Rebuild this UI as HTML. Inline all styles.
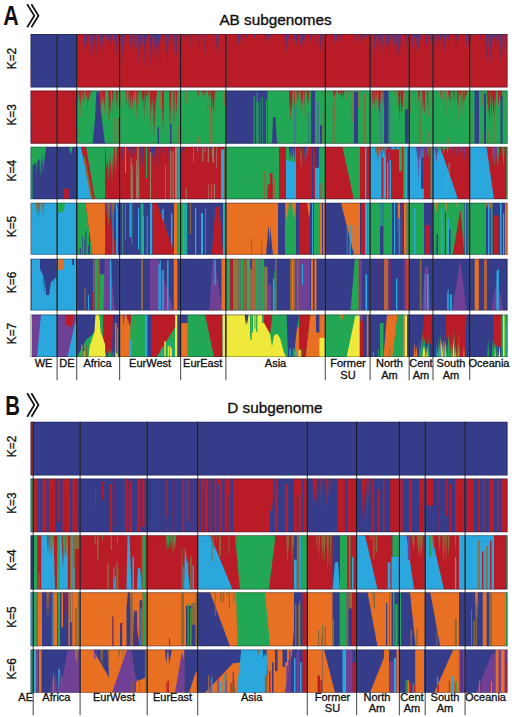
<!DOCTYPE html>
<html><head><meta charset="utf-8"><style>
html,body{margin:0;padding:0;background:#fff;width:512px;height:717px;overflow:hidden}
svg{display:block}
text{font-family:"Liberation Sans",sans-serif;fill:#111}
.k{font-size:11.9px;stroke:#111;stroke-width:0.3px}
.g{font-size:10.2px;stroke:#111;stroke-width:0.3px}
.t{font-size:15.3px;stroke:#111;stroke-width:0.35px}
.big{font-size:27.5px;font-weight:bold}
</style></head><body>
<svg width="512" height="717" viewBox="0 0 512 717">
<defs><filter id="bl" x="-1%" y="-5%" width="102%" height="110%"><feGaussianBlur stdDeviation="0.35 0.2"/></filter></defs>
<text transform="translate(3.3,25.3) scale(0.78,1)" class="big">A</text>
<polyline points="27.2,4.3 34.3,15.7 27.2,27.2" fill="none" stroke="#111" stroke-width="1.7"/>
<polyline points="31.4,4.3 38.5,15.7 31.4,27.2" fill="none" stroke="#111" stroke-width="1.7"/>
<text x="275.5" y="25.2" text-anchor="middle" class="t">AB subgenomes</text>
<text transform="translate(5.2,414.8) scale(0.74,1)" class="big">B</text>
<polyline points="27.2,393.3 34.3,405 27.2,416.7" fill="none" stroke="#111" stroke-width="1.7"/>
<polyline points="31.4,393.3 38.5,405 31.4,416.7" fill="none" stroke="#111" stroke-width="1.7"/>
<text x="274.9" y="413.2" text-anchor="middle" class="t">D subgenome</text>
<svg x="30.5" y="34" width="477.1" height="53.5" viewBox="30.5 34 477.1 53.5" overflow="hidden">
<g filter="url(#bl)">
<rect x="28.5" y="32" width="481.1" height="57.5" fill="#343e8b"/>
<rect x="30.5" y="34" width="46.2" height="53.5" fill="#343e8b"/>
<rect x="30.5" y="69.8" width="1" height="17.7" fill="#b91f27"/>
<rect x="76.7" y="34" width="430.9" height="53.5" fill="#b91f27"/>
<polygon points="98.9,34 100.4,34 99.6,59.1" fill="#5c3378"/>
<polygon points="100,34 101.5,34 100.8,43.3" fill="#5c3378"/>
<polygon points="108.1,34 109.8,34 108.8,41.4" fill="#5c3378"/>
<polygon points="109.3,34 110.3,34 109.6,54.2" fill="#5c3378"/>
<polygon points="114.4,34 116.6,34 115.6,53.3" fill="#5c3378"/>
<polygon points="77.1,34 78.1,34 77.4,50.7" fill="#5c3378"/>
<polygon points="86.3,34 87.3,34 86.8,40" fill="#5c3378"/>
<polygon points="110.3,34 111.7,34 111.1,50.5" fill="#5c3378"/>
<polygon points="103,34 104.5,34 103.6,49.1" fill="#5c3378"/>
<polygon points="115.6,34 117.8,34 116.9,57.3" fill="#5c3378"/>
<polygon points="85.7,34 87,34 86.2,45.5" fill="#5c3378"/>
<polygon points="92.4,34 94.2,34 93.2,57.5" fill="#5c3378"/>
<polygon points="109.8,34 112,34 110.7,39.4" fill="#5c3378"/>
<polygon points="95,34 97.1,34 96,60.3" fill="#5c3378"/>
<polygon points="102.1,34 103,34 102.4,56" fill="#5c3378"/>
<polygon points="90,34 90.9,34 90.6,60" fill="#5c3378"/>
<polygon points="86.5,34 87.5,34 86.8,41.5" fill="#5c3378"/>
<polygon points="83.5,34 85.4,34 84.5,51.3" fill="#5c3378"/>
<polygon points="106.1,34 107.2,34 106.7,42.2" fill="#5c3378"/>
<polygon points="93.6,34 94.5,34 93.9,43.9" fill="#5c3378"/>
<polygon points="108.1,34 110.3,34 109.5,45.9" fill="#5c3378"/>
<polygon points="92.4,34 93.5,34 93,57.6" fill="#5c3378"/>
<polygon points="116.6,34 117.6,34 117,43.9" fill="#5c3378"/>
<polygon points="89.5,34 91.4,34 90.2,45.7" fill="#5c3378"/>
<polygon points="100.1,34 101.1,34 100.6,44.6" fill="#5c3378"/>
<polygon points="94.7,34 96,34 95.4,59.9" fill="#5c3378"/>
<polygon points="111.1,34 112.7,34 111.7,43.3" fill="#5c3378"/>
<polygon points="108.7,34 110.8,34 109.5,44.7" fill="#5c3378"/>
<polygon points="113.8,34 115.6,34 115,43.6" fill="#5c3378"/>
<polygon points="100.3,34 102.4,34 101,48.4" fill="#5c3378"/>
<polygon points="158.5,34 159.9,34 159,64.3" fill="#5c3378"/>
<polygon points="142.2,34 143,34 142.7,49.6" fill="#5c3378"/>
<polygon points="155,34 156.8,34 156,60.3" fill="#5c3378"/>
<polygon points="146,34 147,34 146.6,45.4" fill="#5c3378"/>
<polygon points="168.4,34 169.3,34 168.9,42.1" fill="#5c3378"/>
<polygon points="143.8,34 145,34 144.2,70.9" fill="#5c3378"/>
<polygon points="174.1,34 175,34 174.4,58.4" fill="#5c3378"/>
<polygon points="174.7,34 176.9,34 175.8,43.6" fill="#5c3378"/>
<polygon points="138.4,34 139.4,34 138.8,62.6" fill="#5c3378"/>
<polygon points="123,34 124.8,34 124.1,45.8" fill="#5c3378"/>
<polygon points="144.6,34 145.9,34 145.2,61.7" fill="#5c3378"/>
<polygon points="121.8,34 123.1,34 122.7,66.6" fill="#5c3378"/>
<polygon points="158.4,34 160.5,34 159.3,52.7" fill="#5c3378"/>
<polygon points="159.2,34 161,34 159.9,43.6" fill="#5c3378"/>
<polygon points="150,34 151.3,34 150.7,69.7" fill="#5c3378"/>
<polygon points="168.7,34 169.5,34 169.1,55.5" fill="#5c3378"/>
<polygon points="145.2,34 146.3,34 145.8,53.9" fill="#5c3378"/>
<polygon points="152.5,34 153.4,34 153,46" fill="#5c3378"/>
<polygon points="136.4,34 137.2,34 136.8,52.2" fill="#5c3378"/>
<polygon points="147.2,34 148,34 147.5,47.2" fill="#5c3378"/>
<polygon points="176.1,34 177.6,34 177.1,57.4" fill="#5c3378"/>
<polygon points="174.5,34 175.5,34 174.9,53" fill="#5c3378"/>
<polygon points="173,34 174.9,34 173.8,39.6" fill="#5c3378"/>
<polygon points="139.9,34 141.7,34 140.4,48.4" fill="#5c3378"/>
<polygon points="156.6,34 157.5,34 157.2,76.2" fill="#5c3378"/>
<polygon points="121.4,34 122.9,34 122.3,51.4" fill="#5c3378"/>
<polygon points="157.1,34 159.1,34 158.1,47.9" fill="#5c3378"/>
<polygon points="156.7,34 158.2,34 157.7,49.2" fill="#5c3378"/>
<polygon points="129.4,34 131.4,34 130.7,50.3" fill="#5c3378"/>
<polygon points="175.5,34 176.7,34 176.2,58.6" fill="#5c3378"/>
<polygon points="132.5,34 134.2,34 133.2,50" fill="#5c3378"/>
<polygon points="160.4,34 162.2,34 161.6,44.3" fill="#5c3378"/>
<polygon points="134.1,34 135.5,34 135.1,55.7" fill="#5c3378"/>
<polygon points="156.5,34 158.1,34 157.6,73.8" fill="#5c3378"/>
<polygon points="144.3,34 146.1,34 145.5,61.4" fill="#5c3378"/>
<polygon points="153.7,34 155.6,34 154.6,52.4" fill="#5c3378"/>
<polygon points="152.8,34 154.6,34 153.8,40" fill="#5c3378"/>
<polygon points="166.2,34 168.3,34 167.6,73" fill="#5c3378"/>
<polygon points="166.1,34 167.7,34 166.7,53.6" fill="#5c3378"/>
<polygon points="138.3,34 139.6,34 139.1,74.3" fill="#5c3378"/>
<polygon points="154.5,34 155.4,34 155.1,42" fill="#343e8b"/>
<polygon points="150.6,34 152,34 151.2,49.2" fill="#343e8b"/>
<polygon points="144.6,34 146.3,34 145.8,45.7" fill="#343e8b"/>
<polygon points="155.3,34 156.9,34 155.8,47.4" fill="#343e8b"/>
<polygon points="170.5,34 171.7,34 171.1,46.7" fill="#343e8b"/>
<polygon points="140.5,34 141.5,34 140.8,42.4" fill="#343e8b"/>
<polygon points="157.8,34 159.5,34 158.4,43.8" fill="#343e8b"/>
<polygon points="144.3,34 145.4,34 144.8,38.6" fill="#343e8b"/>
<polygon points="163.3,34 164.5,34 163.7,48.8" fill="#343e8b"/>
<polygon points="170.5,34 171.4,34 170.9,36.8" fill="#343e8b"/>
<polygon points="151.2,34 152.6,34 152,39.6" fill="#343e8b"/>
<polygon points="120.3,34 121.8,34 121,46.2" fill="#343e8b"/>
<polygon points="196.4,34 197.5,34 197.1,45.8" fill="#5c3378"/>
<polygon points="185.5,34 186.6,34 185.9,38.6" fill="#5c3378"/>
<polygon points="183,34 184.7,34 183.7,43.8" fill="#5c3378"/>
<polygon points="190.3,34 191.4,34 190.9,47.9" fill="#5c3378"/>
<polygon points="186.7,34 187.5,34 187.2,38.6" fill="#5c3378"/>
<polygon points="198.7,34 200.5,34 199.8,47.7" fill="#5c3378"/>
<polygon points="215.9,34 216.8,34 216.5,53.3" fill="#5c3378"/>
<polygon points="205.1,34 206.2,34 205.7,55.1" fill="#5c3378"/>
<polygon points="215.3,34 216.5,34 216,47.8" fill="#5c3378"/>
<polygon points="204.4,34 205.3,34 204.8,58.6" fill="#5c3378"/>
<polygon points="218.2,34 219.3,34 218.6,52.9" fill="#5c3378"/>
<polygon points="214.6,34 216.1,34 215.4,42.9" fill="#5c3378"/>
<polygon points="237.4,34 239.3,34 238.1,44.6" fill="#5c3378"/>
<polygon points="237.5,34 239.5,34 238.7,46.1" fill="#5c3378"/>
<polygon points="269.2,34 271,34 270,39.2" fill="#5c3378"/>
<polygon points="246.1,34 247.7,34 246.7,39.5" fill="#5c3378"/>
<polygon points="265.1,34 267,34 265.8,45.2" fill="#5c3378"/>
<polygon points="253.4,34 255.3,34 254.3,39.2" fill="#5c3378"/>
<polygon points="239.6,34 240.9,34 240.2,42.7" fill="#5c3378"/>
<polygon points="267.2,34 268.7,34 267.9,43.6" fill="#5c3378"/>
<polygon points="303.1,34 304.3,34 303.7,47.2" fill="#5c3378"/>
<polygon points="310.1,34 311.4,34 310.8,44.2" fill="#5c3378"/>
<polygon points="296.1,34 297,34 296.4,45.6" fill="#5c3378"/>
<polygon points="296.2,34 297.9,34 297.3,54.1" fill="#5c3378"/>
<polygon points="319.6,34 320.8,34 320.3,54.5" fill="#5c3378"/>
<polygon points="302.3,34 303.2,34 302.7,51.1" fill="#5c3378"/>
<polygon points="296.4,34 297.4,34 297,44.2" fill="#5c3378"/>
<polygon points="300.8,34 302.1,34 301.7,51.4" fill="#5c3378"/>
<polygon points="285.8,34 286.9,34 286.5,57.6" fill="#5c3378"/>
<polygon points="304.5,34 306.3,34 305.2,43.7" fill="#5c3378"/>
<polygon points="302.4,34 303.5,34 303,40.6" fill="#5c3378"/>
<polygon points="284.5,34 286.2,34 285.3,55.1" fill="#5c3378"/>
<polygon points="302.6,34 304.5,34 303.5,54.3" fill="#5c3378"/>
<polygon points="303.7,34 305.2,34 304.3,39.8" fill="#5c3378"/>
<polygon points="300.2,34 301.3,34 300.8,46.3" fill="#5c3378"/>
<polygon points="299.8,34 301.4,34 300.6,45.3" fill="#5c3378"/>
<polygon points="314.6,34 316.5,34 315.8,51.6" fill="#5c3378"/>
<polygon points="288,34 289.1,34 288.4,41.1" fill="#5c3378"/>
<polygon points="309.1,34 310,34 309.4,56.6" fill="#5c3378"/>
<polygon points="321,34 322.7,34 321.6,53.7" fill="#5c3378"/>
<polygon points="294.1,34 295.6,34 294.6,42.7" fill="#5c3378"/>
<polygon points="320.4,34 321.8,34 320.9,41.3" fill="#5c3378"/>
<polygon points="285.5,34 286.8,34 286.3,48" fill="#5c3378"/>
<polygon points="285.5,34 286.9,34 286.1,39.9" fill="#5c3378"/>
<polygon points="320.4,34 322,34 321,48.8" fill="#5c3378"/>
<polygon points="360.5,34 362,34 361.1,47" fill="#5c3378"/>
<polygon points="356.1,34 357.8,34 356.7,43.8" fill="#5c3378"/>
<polygon points="343.2,34 344,34 343.5,44.7" fill="#5c3378"/>
<polygon points="340.2,34 341.6,34 341.2,45.7" fill="#5c3378"/>
<polygon points="368.7,34 369.9,34 369.5,37.3" fill="#5c3378"/>
<polygon points="333.2,34 335.1,34 334.2,44.2" fill="#5c3378"/>
<polygon points="335.6,34 337.6,34 336.9,42.5" fill="#5c3378"/>
<polygon points="339.8,34 341.4,34 340.9,37.6" fill="#5c3378"/>
<polygon points="368.5,34 369.8,34 369.3,38.2" fill="#5c3378"/>
<polygon points="364.9,34 366.7,34 365.7,36.9" fill="#5c3378"/>
<polygon points="393.8,34 394.8,34 394.2,46.5" fill="#5c3378"/>
<polygon points="387.6,34 389,34 388.3,49.6" fill="#5c3378"/>
<polygon points="379.1,34 380.2,34 379.6,54.2" fill="#5c3378"/>
<polygon points="397.9,34 399.5,34 398.9,57.9" fill="#5c3378"/>
<polygon points="378.5,34 379.6,34 379.1,55.1" fill="#5c3378"/>
<polygon points="394.4,34 395.4,34 395,58" fill="#5c3378"/>
<polygon points="380.7,34 381.8,34 381.5,39.5" fill="#5c3378"/>
<polygon points="396.1,34 397.2,34 396.7,50.9" fill="#5c3378"/>
<polygon points="399.4,34 400.8,34 400,52.2" fill="#5c3378"/>
<polygon points="387.2,34 388.2,34 387.6,59.1" fill="#5c3378"/>
<polygon points="392.3,34 393.9,34 392.9,42.8" fill="#5c3378"/>
<polygon points="385.5,34 387.1,34 386.3,48.1" fill="#5c3378"/>
<polygon points="395.4,34 396.3,34 395.9,51.9" fill="#5c3378"/>
<polygon points="399,34 400.3,34 399.7,57" fill="#5c3378"/>
<polygon points="375.3,34 376.2,34 375.6,42.6" fill="#5c3378"/>
<polygon points="389.3,34 390.8,34 390.3,43.7" fill="#5c3378"/>
<polygon points="398.1,34 399.6,34 399,56.9" fill="#5c3378"/>
<polygon points="405,34 406.5,34 405.8,42.2" fill="#5c3378"/>
<polygon points="386.8,34 388.7,34 387.5,56.8" fill="#5c3378"/>
<polygon points="379.7,34 381,34 380.4,47.8" fill="#5c3378"/>
<polygon points="382.2,34 383.2,34 382.6,57.5" fill="#5c3378"/>
<polygon points="405.8,34 406.8,34 406.1,50.9" fill="#5c3378"/>
<polygon points="375.2,34 376.7,34 376.1,42.8" fill="#5c3378"/>
<polygon points="385.1,34 386.7,34 385.9,50.4" fill="#5c3378"/>
<polygon points="373.6,34 375,34 374.4,55.8" fill="#5c3378"/>
<polygon points="426,34 427.6,34 426.8,47.7" fill="#5c3378"/>
<polygon points="430.7,34 431.9,34 431.1,44" fill="#5c3378"/>
<polygon points="415.4,34 416.6,34 415.9,44.6" fill="#5c3378"/>
<polygon points="416.9,34 417.8,34 417.3,44.3" fill="#5c3378"/>
<polygon points="411.5,34 412.5,34 412,42.6" fill="#5c3378"/>
<polygon points="425.2,34 426.5,34 425.8,52.2" fill="#5c3378"/>
<polygon points="425.3,34 426.3,34 425.8,51.5" fill="#5c3378"/>
<polygon points="416.1,34 417.7,34 417.1,54" fill="#5c3378"/>
<polygon points="429.3,34 431.1,34 430.2,43.1" fill="#5c3378"/>
<polygon points="426.3,34 428,34 426.9,45.6" fill="#5c3378"/>
<polygon points="412.1,34 413.7,34 412.6,50.7" fill="#5c3378"/>
<polygon points="419.9,34 421.3,34 420.6,41.3" fill="#5c3378"/>
<polygon points="417.6,34 419,34 418.5,53.7" fill="#5c3378"/>
<polygon points="414.9,34 416.8,34 415.8,39.8" fill="#5c3378"/>
<polygon points="456.4,34 458.3,34 457.7,51.7" fill="#5c3378"/>
<polygon points="455.2,34 456.3,34 455.9,53.9" fill="#5c3378"/>
<polygon points="438.8,34 440.3,34 439.9,46" fill="#5c3378"/>
<polygon points="444.2,34 445.1,34 444.6,54.6" fill="#5c3378"/>
<polygon points="444.1,34 445.1,34 444.5,53.9" fill="#5c3378"/>
<polygon points="454.8,34 456.1,34 455.4,52.3" fill="#5c3378"/>
<polygon points="453.1,34 454,34 453.4,39.9" fill="#5c3378"/>
<polygon points="457.3,34 458.3,34 457.8,43.9" fill="#5c3378"/>
<polygon points="437.1,34 438.1,34 437.7,39.7" fill="#5c3378"/>
<polygon points="440.5,34 442.3,34 441.1,43.2" fill="#5c3378"/>
<polygon points="443.4,34 444.9,34 444.2,41.5" fill="#5c3378"/>
<polygon points="448.4,34 449.9,34 449.3,41.8" fill="#5c3378"/>
<polygon points="447.9,34 449.4,34 448.9,42" fill="#5c3378"/>
<polygon points="456.6,34 458.4,34 457.5,55.3" fill="#5c3378"/>
<polygon points="437,34 438.3,34 437.7,49.1" fill="#5c3378"/>
<polygon points="467.4,34 468.7,34 467.9,52.8" fill="#5c3378"/>
<polygon points="433.1,34 434.9,34 433.9,49.8" fill="#5c3378"/>
<polygon points="465.7,34 467.4,34 466.7,47.9" fill="#5c3378"/>
<polygon points="456.4,34 457.3,34 456.9,41.2" fill="#5c3378"/>
<polygon points="435.5,34 436.7,34 435.9,51.3" fill="#5c3378"/>
<polygon points="479.7,34 480.7,34 480.1,41.8" fill="#5c3378"/>
<polygon points="481,34 482.1,34 481.6,43.2" fill="#5c3378"/>
<polygon points="473.2,34 474.6,34 473.8,36.7" fill="#5c3378"/>
<polygon points="470.9,34 472.4,34 471.5,43" fill="#5c3378"/>
<polygon points="470.6,34 471.7,34 471.2,44.7" fill="#5c3378"/>
<polygon points="487.7,34 489.6,34 489,40" fill="#5c3378"/>
<polygon points="487.4,34 488.4,34 487.9,56.8" fill="#5c3378"/>
<polygon points="489.4,34 491.3,34 490.2,65" fill="#5c3378"/>
<polygon points="503.2,34 504.7,34 504.2,57.7" fill="#5c3378"/>
<polygon points="485.9,34 487.6,34 486.8,62.9" fill="#5c3378"/>
<polygon points="488.8,34 489.9,34 489.4,62.1" fill="#5c3378"/>
<polygon points="499.8,34 501.7,34 500.8,65.1" fill="#5c3378"/>
<polygon points="496.9,34 498.5,34 498,46.3" fill="#5c3378"/>
<polygon points="500.5,34 501.7,34 501.1,64.9" fill="#5c3378"/>
<polygon points="501.5,34 502.5,34 501.9,57.2" fill="#5c3378"/>
<polygon points="495.7,34 496.6,34 496.3,40.2" fill="#5c3378"/>
<polygon points="495.1,34 496.5,34 495.9,50.3" fill="#5c3378"/>
<polygon points="490.9,34 492.8,34 491.9,49.3" fill="#5c3378"/>
<polygon points="496.8,34 498,34 497.4,53.9" fill="#5c3378"/>
<polygon points="495.2,34 496.9,34 496.4,41.7" fill="#5c3378"/>
<polygon points="493.2,34 494.7,34 493.7,41.3" fill="#343e8b"/>
<polygon points="377.6,34 378.8,34 378,39" fill="#343e8b"/>
<polygon points="382.3,34 383.2,34 382.7,37" fill="#343e8b"/>
<polygon points="303,34 303.8,34 303.4,40.2" fill="#343e8b"/>
<polygon points="446.1,34 447.3,34 446.5,37.9" fill="#343e8b"/>
<polygon points="414,34 415.3,34 414.7,39.8" fill="#343e8b"/>
<polygon points="364,34 365.5,34 364.7,40.5" fill="#343e8b"/>
<polygon points="429.8,34 431,34 430.2,37.6" fill="#343e8b"/>
<polygon points="442.6,34 443.7,34 443.1,39.4" fill="#343e8b"/>
<polygon points="324.2,34 325.4,34 324.7,36.8" fill="#343e8b"/>
<polygon points="327.2,34 328.5,34 327.6,36.3" fill="#343e8b"/>
<polygon points="344.9,34 345.8,34 345.5,39.3" fill="#343e8b"/>
<polygon points="365.7,34 366.7,34 366.1,37.5" fill="#343e8b"/>
<polygon points="405.1,34 406.5,34 405.6,37.3" fill="#343e8b"/>
<polygon points="440,34 441.4,34 440.6,40.9" fill="#343e8b"/>
<polygon points="486.9,34 488.1,34 487.7,39.4" fill="#343e8b"/>
<polygon points="499.6,34 500.5,34 500,36" fill="#343e8b"/>
<polygon points="463.1,34 463.9,34 463.6,40" fill="#343e8b"/>
<polygon points="493.3,34 494.7,34 494.3,39.1" fill="#343e8b"/>
<polygon points="360.4,34 361.7,34 361,41.9" fill="#343e8b"/>
</g>
<rect x="30.9" y="34.5" width="476.2" height="52.6" fill="none" stroke="#000" stroke-opacity="0.3" stroke-width="0.9"/>
</svg>
<svg x="30.5" y="90.6" width="477.1" height="53.1" viewBox="30.5 90.6 477.1 53.1" overflow="hidden">
<g filter="url(#bl)">
<rect x="28.5" y="88.6" width="481.1" height="57.1" fill="#343e8b"/>
<rect x="30.5" y="90.6" width="46.2" height="53.1" fill="#b91f27"/>
<rect x="30.5" y="115.6" width="0.8" height="28.1" fill="#343e8b"/>
<rect x="76.7" y="90.6" width="430.9" height="53.1" fill="#22a855"/>
<rect x="201.1" y="90.6" width="0.8" height="1" fill="#8a6a3a"/>
<rect x="167.1" y="90.6" width="0.8" height="8.2" fill="#8a6a3a"/>
<rect x="352.4" y="90.6" width="0.7" height="31.5" fill="#8a6a3a"/>
<rect x="503.5" y="90.6" width="0.7" height="31.6" fill="#8a6a3a"/>
<rect x="108.2" y="90.6" width="0.6" height="5.1" fill="#8a6a3a"/>
<rect x="334.3" y="90.6" width="0.9" height="29.2" fill="#8a6a3a"/>
<rect x="357.8" y="90.6" width="1" height="17.1" fill="#8a6a3a"/>
<rect x="87.1" y="90.6" width="0.5" height="25.7" fill="#8a6a3a"/>
<rect x="404.5" y="90.6" width="0.8" height="18" fill="#8a6a3a"/>
<rect x="351.1" y="90.6" width="0.8" height="28.5" fill="#8a6a3a"/>
<rect x="289.3" y="90.6" width="0.6" height="9.9" fill="#8a6a3a"/>
<rect x="453.3" y="90.6" width="0.9" height="8" fill="#8a6a3a"/>
<rect x="181.5" y="90.6" width="0.5" height="10" fill="#8a6a3a"/>
<rect x="252.8" y="90.6" width="0.9" height="23.9" fill="#8a6a3a"/>
<rect x="301.9" y="90.6" width="0.7" height="5.9" fill="#8a6a3a"/>
<rect x="297.2" y="90.6" width="0.8" height="27.5" fill="#8a6a3a"/>
<rect x="300.1" y="90.6" width="1" height="2.2" fill="#8a6a3a"/>
<rect x="482.4" y="90.6" width="1" height="15.1" fill="#8a6a3a"/>
<rect x="477.3" y="90.6" width="0.7" height="8.1" fill="#8a6a3a"/>
<rect x="375.5" y="90.6" width="0.6" height="21.5" fill="#8a6a3a"/>
<rect x="432.3" y="90.6" width="0.8" height="16.3" fill="#8a6a3a"/>
<rect x="173.8" y="90.6" width="0.7" height="6.8" fill="#8a6a3a"/>
<rect x="262.4" y="90.6" width="0.7" height="23.6" fill="#8a6a3a"/>
<rect x="296.2" y="90.6" width="0.8" height="12.1" fill="#8a6a3a"/>
<rect x="241.1" y="90.6" width="0.8" height="25.4" fill="#8a6a3a"/>
<rect x="375.2" y="90.6" width="0.8" height="11.9" fill="#8a6a3a"/>
<rect x="386.6" y="90.6" width="0.8" height="30.5" fill="#8a6a3a"/>
<rect x="214.7" y="90.6" width="0.8" height="22" fill="#8a6a3a"/>
<rect x="220.7" y="90.6" width="0.6" height="1" fill="#8a6a3a"/>
<rect x="186" y="90.6" width="0.8" height="12.5" fill="#8a6a3a"/>
<rect x="349.7" y="90.6" width="0.9" height="1.2" fill="#8a6a3a"/>
<rect x="79.9" y="90.6" width="0.7" height="26.2" fill="#8a6a3a"/>
<rect x="442" y="90.6" width="0.7" height="8.4" fill="#8a6a3a"/>
<rect x="136.5" y="90.6" width="0.9" height="27.6" fill="#8a6a3a"/>
<rect x="108.4" y="90.6" width="0.7" height="29.2" fill="#8a6a3a"/>
<rect x="160.1" y="90.6" width="0.9" height="18.4" fill="#8a6a3a"/>
<rect x="138.3" y="90.6" width="0.7" height="13.6" fill="#8a6a3a"/>
<rect x="240.3" y="90.6" width="1" height="24.2" fill="#8a6a3a"/>
<rect x="407.1" y="90.6" width="0.9" height="19.5" fill="#8a6a3a"/>
<rect x="223.8" y="90.6" width="1" height="15.2" fill="#8a6a3a"/>
<rect x="120.3" y="90.6" width="0.7" height="15.6" fill="#8a6a3a"/>
<rect x="323.4" y="90.6" width="0.9" height="5.7" fill="#8a6a3a"/>
<rect x="284.8" y="90.6" width="0.6" height="3.4" fill="#8a6a3a"/>
<rect x="394.4" y="90.6" width="0.6" height="3.4" fill="#8a6a3a"/>
<rect x="145.2" y="90.6" width="0.6" height="16.5" fill="#8a6a3a"/>
<rect x="371.9" y="90.6" width="0.5" height="18" fill="#8a6a3a"/>
<rect x="409.7" y="90.6" width="0.9" height="23.1" fill="#8a6a3a"/>
<rect x="207.5" y="90.6" width="0.8" height="19" fill="#8a6a3a"/>
<rect x="175.1" y="90.6" width="0.6" height="22.3" fill="#8a6a3a"/>
<rect x="136" y="90.6" width="0.8" height="14.1" fill="#8a6a3a"/>
<rect x="172.5" y="90.6" width="0.8" height="20.7" fill="#8a6a3a"/>
<rect x="147.7" y="90.6" width="0.6" height="13.2" fill="#8a6a3a"/>
<rect x="385.8" y="90.6" width="0.6" height="13.2" fill="#8a6a3a"/>
<rect x="428.5" y="90.6" width="0.6" height="26.6" fill="#8a6a3a"/>
<rect x="128.6" y="90.6" width="0.9" height="8.7" fill="#8a6a3a"/>
<rect x="396.7" y="90.6" width="0.5" height="14.8" fill="#8a6a3a"/>
<rect x="479" y="90.6" width="0.5" height="2.4" fill="#8a6a3a"/>
<rect x="463.6" y="90.6" width="0.5" height="14.4" fill="#8a6a3a"/>
<rect x="329.5" y="90.6" width="0.9" height="4.3" fill="#8a6a3a"/>
<rect x="403.8" y="90.6" width="0.7" height="0.6" fill="#8a6a3a"/>
<rect x="227.4" y="90.6" width="0.9" height="16.4" fill="#8a6a3a"/>
<rect x="415.5" y="90.6" width="0.7" height="15.4" fill="#8a6a3a"/>
<rect x="104" y="90.6" width="0.7" height="23.2" fill="#8a6a3a"/>
<rect x="336.4" y="90.6" width="0.6" height="0.2" fill="#8a6a3a"/>
<rect x="346.4" y="90.6" width="0.6" height="9" fill="#8a6a3a"/>
<rect x="373.8" y="90.6" width="0.8" height="11.3" fill="#8a6a3a"/>
<rect x="244.2" y="90.6" width="0.8" height="1.4" fill="#8a6a3a"/>
<rect x="304.7" y="90.6" width="0.9" height="27.7" fill="#8a6a3a"/>
<rect x="347.6" y="90.6" width="0.8" height="3.5" fill="#8a6a3a"/>
<rect x="262.1" y="90.6" width="0.8" height="8.8" fill="#8a6a3a"/>
<rect x="420.2" y="119.6" width="0.7" height="24.1" fill="#8a6a3a"/>
<rect x="178.3" y="126.1" width="0.7" height="17.6" fill="#8a6a3a"/>
<rect x="494" y="110.3" width="0.6" height="33.4" fill="#8a6a3a"/>
<rect x="117.9" y="117.8" width="1" height="25.9" fill="#8a6a3a"/>
<rect x="485.1" y="132.6" width="0.8" height="11.1" fill="#8a6a3a"/>
<rect x="348.9" y="133.1" width="0.7" height="10.6" fill="#8a6a3a"/>
<rect x="428.1" y="131.4" width="0.6" height="12.3" fill="#8a6a3a"/>
<rect x="171.2" y="128.6" width="1" height="15.1" fill="#8a6a3a"/>
<rect x="487.2" y="129.8" width="0.7" height="13.9" fill="#8a6a3a"/>
<rect x="481.8" y="131.8" width="0.5" height="11.9" fill="#8a6a3a"/>
<rect x="491.2" y="107.3" width="0.6" height="36.4" fill="#8a6a3a"/>
<rect x="332.7" y="102.1" width="1" height="41.6" fill="#8a6a3a"/>
<rect x="212.8" y="103.9" width="0.9" height="39.8" fill="#8a6a3a"/>
<rect x="114.4" y="118" width="0.6" height="25.7" fill="#8a6a3a"/>
<rect x="471.6" y="115.5" width="0.6" height="28.2" fill="#8a6a3a"/>
<rect x="78.7" y="127.5" width="0.6" height="16.2" fill="#8a6a3a"/>
<rect x="488.4" y="129.1" width="0.6" height="14.6" fill="#8a6a3a"/>
<rect x="322.7" y="111.6" width="0.8" height="32.1" fill="#8a6a3a"/>
<rect x="209.9" y="106.6" width="1" height="37.1" fill="#8a6a3a"/>
<rect x="448.4" y="137.3" width="0.8" height="6.4" fill="#8a6a3a"/>
<rect x="179.7" y="118.4" width="0.7" height="25.3" fill="#8a6a3a"/>
<rect x="334.3" y="109.4" width="0.6" height="34.3" fill="#8a6a3a"/>
<rect x="415.3" y="136.3" width="0.6" height="7.4" fill="#8a6a3a"/>
<rect x="198.1" y="136.4" width="0.8" height="7.3" fill="#8a6a3a"/>
<rect x="314.3" y="116.2" width="0.8" height="27.5" fill="#8a6a3a"/>
<polygon points="78.6,90.6 79.4,90.6 79.1,103.2" fill="#b91f27"/>
<polygon points="78.6,90.6 79.5,90.6 79.2,100.2" fill="#b91f27"/>
<polygon points="87.4,90.6 88.4,90.6 87.7,108.2" fill="#b91f27"/>
<polygon points="83.1,90.6 84.5,90.6 84.1,103.6" fill="#b91f27"/>
<polygon points="77.3,90.6 78.2,90.6 77.7,113.4" fill="#b91f27"/>
<polygon points="81.6,90.6 82.6,90.6 82.3,102.7" fill="#b91f27"/>
<polygon points="80,90.6 81.1,90.6 80.6,106.8" fill="#b91f27"/>
<polygon points="87.9,90.6 89.9,90.6 88.7,102.5" fill="#b91f27"/>
<polygon points="90.1,90.6 91.9,90.6 91.1,96.5" fill="#b91f27"/>
<polygon points="85.6,90.6 87.4,90.6 86.7,100" fill="#b91f27"/>
<polygon points="79.6,90.6 81.3,90.6 80.2,107.8" fill="#b91f27"/>
<polygon points="81.8,90.6 82.6,90.6 82.1,102.1" fill="#b91f27"/>
<polygon points="92.5,143.7 95,119.8 96.3,91.7 99.5,91.7 101,111.8 105,143.7" fill="#343e8b"/>
<polygon points="103.7,90.6 104.5,90.6 104.2,108.5" fill="#b91f27"/>
<polygon points="112,90.6 113.4,90.6 112.7,103.6" fill="#b91f27"/>
<polygon points="108.5,90.6 110.3,90.6 109.6,123.8" fill="#b91f27"/>
<polygon points="100,90.6 101.3,90.6 100.4,119.3" fill="#b91f27"/>
<polygon points="112.6,90.6 113.4,90.6 113.1,121.4" fill="#b91f27"/>
<polygon points="103.2,90.6 105.2,90.6 103.9,103.2" fill="#b91f27"/>
<polygon points="101.8,90.6 103.8,90.6 102.4,105" fill="#b91f27"/>
<polygon points="100.7,90.6 101.5,90.6 101,109.7" fill="#b91f27"/>
<polygon points="115.6,90.6 116.8,90.6 116.4,105.2" fill="#b91f27"/>
<polygon points="109.3,90.6 111,90.6 110.3,115" fill="#b91f27"/>
<polygon points="103.8,90.6 105.3,90.6 104.4,109.1" fill="#b91f27"/>
<polygon points="116.5,90.6 117.8,90.6 116.9,111.4" fill="#b91f27"/>
<polygon points="131.7,90.6 133.2,90.6 132.3,112.8" fill="#b91f27"/>
<polygon points="136.4,90.6 138,90.6 137,115" fill="#b91f27"/>
<polygon points="131.4,90.6 132.9,90.6 132.5,105.3" fill="#b91f27"/>
<polygon points="128.3,90.6 129.7,90.6 129.1,115.8" fill="#b91f27"/>
<polygon points="125.8,90.6 127,90.6 126.2,105.1" fill="#b91f27"/>
<polygon points="133.6,90.6 135.1,90.6 134.6,103.4" fill="#b91f27"/>
<polygon points="130,90.6 132,90.6 130.7,109.5" fill="#b91f27"/>
<polygon points="138.8,90.6 139.6,90.6 139.1,100.1" fill="#b91f27"/>
<polygon points="146.4,90.6 148.6,90.6 147.8,97.7" fill="#b91f27"/>
<polygon points="152.1,90.6 154,90.6 153.4,100.9" fill="#b91f27"/>
<polygon points="150.9,90.6 152.9,90.6 152.1,105.1" fill="#b91f27"/>
<polygon points="154.7,90.6 157,90.6 156,104.1" fill="#b91f27"/>
<polygon points="141.7,90.6 143.6,90.6 143,101.7" fill="#b91f27"/>
<polygon points="154,90.6 156.1,90.6 155.1,104.4" fill="#b91f27"/>
<polygon points="144.9,90.6 147.1,90.6 146.2,97.4" fill="#b91f27"/>
<polygon points="142.4,90.6 144.3,90.6 143.7,102.1" fill="#b91f27"/>
<polygon points="150.1,90.6 152.2,90.6 151.3,101.3" fill="#b91f27"/>
<polygon points="141.4,90.6 143.1,90.6 141.9,103.4" fill="#b91f27"/>
<polygon points="161.8,90.6 163.3,90.6 162.8,132.6" fill="#b91f27"/>
<polygon points="153.8,90.6 155.7,90.6 154.7,136.5" fill="#b91f27"/>
<polygon points="144.4,90.6 145.6,90.6 144.8,120.2" fill="#b91f27"/>
<polygon points="162.9,90.6 164,90.6 163.6,130.1" fill="#b91f27"/>
<polygon points="143.2,90.6 144.1,90.6 143.7,110.7" fill="#b91f27"/>
<polygon points="169.2,90.6 171,90.6 170.1,135.9" fill="#b91f27"/>
<polygon points="151.3,90.6 152.9,90.6 151.9,112.9" fill="#b91f27"/>
<polygon points="162.6,90.6 164,90.6 163.3,122.5" fill="#b91f27"/>
<polygon points="149.9,90.6 151.2,90.6 150.6,131.5" fill="#b91f27"/>
<polygon points="169.7,90.6 171.4,90.6 170.2,111.7" fill="#b91f27"/>
<polygon points="173.5,90.6 174.7,90.6 174.1,130.6" fill="#b91f27"/>
<polygon points="153.1,90.6 154.8,90.6 153.6,133.4" fill="#b91f27"/>
<polygon points="175.6,90.6 177.3,90.6 176.4,116.8" fill="#b91f27"/>
<polygon points="150.9,90.6 151.9,90.6 151.3,109.9" fill="#b91f27"/>
<rect x="170.2" y="123.7" width="1.1" height="20" fill="#343e8b"/>
<rect x="157.6" y="127.2" width="1.4" height="16.5" fill="#343e8b"/>
<rect x="170.1" y="123.9" width="1.1" height="19.8" fill="#343e8b"/>
<polygon points="207.9,90.6 209.6,90.6 209,98.3" fill="#b91f27"/>
<polygon points="204.2,90.6 206.8,90.6 205.7,92.2" fill="#b91f27"/>
<polygon points="201.4,90.6 202.9,90.6 202.1,94.9" fill="#b91f27"/>
<polygon points="196.9,90.6 199,90.6 198.4,97.5" fill="#b91f27"/>
<polygon points="203.2,90.6 204.9,90.6 204,97.9" fill="#b91f27"/>
<polygon points="210.4,90.6 212.8,90.6 211.9,113.1" fill="#b91f27"/>
<polygon points="212.2,90.6 214.9,90.6 213.4,113.2" fill="#b91f27"/>
<rect x="225.9" y="90.6" width="24.1" height="53.1" fill="#343e8b"/>
<rect x="250" y="90.6" width="17.5" height="53.1" fill="#343e8b"/>
<rect x="257.6" y="102.1" width="1.1" height="41.6" fill="#22a855"/>
<rect x="262.1" y="96.6" width="0.7" height="47.1" fill="#22a855"/>
<rect x="253.6" y="96.1" width="1.1" height="47.6" fill="#22a855"/>
<rect x="256.2" y="102.2" width="0.8" height="41.5" fill="#22a855"/>
<rect x="265.9" y="99.9" width="1" height="43.8" fill="#22a855"/>
<rect x="257.1" y="92.7" width="0.7" height="51" fill="#3f7f86"/>
<rect x="259.8" y="97.5" width="0.8" height="46.2" fill="#3f7f86"/>
<rect x="256.6" y="92.5" width="0.8" height="51.2" fill="#3f7f86"/>
<polygon points="272,143.7 273,117.1 275.5,117.1 277,143.7" fill="#343e8b"/>
<polygon points="306.9,90.6 308.2,90.6 307.4,101.9" fill="#b91f27"/>
<polygon points="301.6,90.6 303.6,90.6 302.5,103.9" fill="#b91f27"/>
<polygon points="296.8,90.6 298.6,90.6 298,101.8" fill="#b91f27"/>
<polygon points="301.8,90.6 302.7,90.6 302.2,114.4" fill="#b91f27"/>
<polygon points="290.9,90.6 292.8,90.6 291.6,114.1" fill="#b91f27"/>
<polygon points="290.2,90.6 292.2,90.6 291.4,112.1" fill="#b91f27"/>
<polygon points="289.2,90.6 291,90.6 290.3,119.9" fill="#b91f27"/>
<polygon points="304.3,90.6 305.4,90.6 304.7,106" fill="#b91f27"/>
<polygon points="294.1,90.6 295.1,90.6 294.6,118.8" fill="#b91f27"/>
<polygon points="306.7,90.6 308.7,90.6 307.6,105.7" fill="#b91f27"/>
<polygon points="300.5,90.6 301.4,90.6 301,114.2" fill="#b91f27"/>
<polygon points="301.1,90.6 302,90.6 301.7,103.6" fill="#b91f27"/>
<polygon points="289.2,90.6 290.6,90.6 290.2,122" fill="#b91f27"/>
<polygon points="308.2,90.6 309.4,90.6 308.8,107.3" fill="#b91f27"/>
<rect x="311" y="90.6" width="4" height="53.1" fill="#343e8b"/>
<rect x="320" y="125.1" width="2" height="18.6" fill="#343e8b"/>
<rect x="293.8" y="106.5" width="2.5" height="37.2" fill="#3f7f86"/>
<rect x="307.5" y="111.8" width="2.5" height="31.9" fill="#3f7f86"/>
<rect x="316.5" y="101.2" width="2.5" height="42.5" fill="#3f7f86"/>
<rect x="380" y="95.9" width="1.5" height="47.8" fill="#3f7f86"/>
<rect x="389" y="101.2" width="1.5" height="42.5" fill="#3f7f86"/>
<polygon points="334.2,90.6 336,90.6 335.4,94.6" fill="#b91f27"/>
<polygon points="342.3,90.6 344.5,90.6 343.3,97.7" fill="#b91f27"/>
<polygon points="340.1,90.6 342.6,90.6 341.5,99.5" fill="#b91f27"/>
<polygon points="337.6,90.6 340.3,90.6 338.6,94.5" fill="#b91f27"/>
<polygon points="332.9,90.6 335.4,90.6 334.3,98.5" fill="#b91f27"/>
<rect x="354" y="91.7" width="4" height="52" fill="#343e8b"/>
<rect x="364" y="93.3" width="1.5" height="50.4" fill="#8a6a3a"/>
<polygon points="372.3,90.6 373.8,90.6 372.9,105.6" fill="#b91f27"/>
<polygon points="379,90.6 380.7,90.6 379.5,115.4" fill="#b91f27"/>
<polygon points="372.3,90.6 373.6,90.6 373,104.7" fill="#b91f27"/>
<polygon points="374.2,90.6 375.1,90.6 374.7,111.6" fill="#b91f27"/>
<polygon points="378.4,90.6 379.5,90.6 378.8,114.1" fill="#b91f27"/>
<polygon points="379.1,90.6 380.9,90.6 379.8,106.6" fill="#b91f27"/>
<polygon points="375.4,90.6 377.3,90.6 376,102.7" fill="#b91f27"/>
<polygon points="378.1,90.6 380,90.6 379.2,114.1" fill="#b91f27"/>
<polygon points="382.3,90.6 383.7,90.6 383,107.3" fill="#b91f27"/>
<polygon points="378.3,90.6 380.1,90.6 379.3,114.9" fill="#b91f27"/>
<rect x="384" y="90.6" width="4.5" height="53.1" fill="#343e8b"/>
<polygon points="400.9,90.6 402,90.6 401.4,105" fill="#b91f27"/>
<polygon points="400.9,90.6 403.2,90.6 402,113.3" fill="#b91f27"/>
<polygon points="398.3,90.6 399.3,90.6 399,111.1" fill="#b91f27"/>
<polygon points="400.7,90.6 402.8,90.6 401.5,112.7" fill="#b91f27"/>
<polygon points="400.8,90.6 403.5,90.6 401.7,111.2" fill="#b91f27"/>
<polygon points="398.5,90.6 400.5,90.6 399.5,121.7" fill="#b91f27"/>
<rect x="405" y="109.2" width="3.5" height="34.5" fill="#343e8b"/>
<polygon points="423.5,90.6 425.3,90.6 424.2,115" fill="#b91f27"/>
<polygon points="418.3,90.6 419.8,90.6 418.7,103.1" fill="#b91f27"/>
<polygon points="423.5,90.6 424.8,90.6 424.2,117" fill="#b91f27"/>
<polygon points="422.1,90.6 423.9,90.6 422.9,112.2" fill="#b91f27"/>
<polygon points="427.1,90.6 428.3,90.6 427.5,111.1" fill="#b91f27"/>
<polygon points="419,90.6 420.2,90.6 419.4,116.5" fill="#b91f27"/>
<rect x="419" y="95.9" width="1.5" height="47.8" fill="#8a6a3a"/>
<polygon points="453.1,90.6 454.2,90.6 453.6,97.2" fill="#b91f27"/>
<polygon points="440.3,90.6 441.2,90.6 440.6,100.4" fill="#b91f27"/>
<polygon points="459.9,90.6 461.1,90.6 460.6,96.5" fill="#b91f27"/>
<polygon points="461.5,90.6 462.5,90.6 461.9,107.6" fill="#b91f27"/>
<polygon points="458.8,90.6 460.6,90.6 459.6,97.1" fill="#b91f27"/>
<polygon points="464.3,90.6 466,90.6 465,98.7" fill="#b91f27"/>
<polygon points="465.3,90.6 467,90.6 465.9,97.4" fill="#b91f27"/>
<polygon points="448.3,90.6 450,90.6 449.4,102.1" fill="#b91f27"/>
<polygon points="457.4,90.6 459.1,90.6 458.4,109.7" fill="#b91f27"/>
<polygon points="456.9,90.6 458.6,90.6 457.4,105.4" fill="#b91f27"/>
<polygon points="463.8,90.6 465.7,90.6 464.8,101.5" fill="#b91f27"/>
<polygon points="453.6,90.6 454.4,90.6 453.9,105.8" fill="#b91f27"/>
<polygon points="462.3,90.6 463.6,90.6 462.9,98.2" fill="#b91f27"/>
<polygon points="450.4,90.6 451.3,90.6 450.9,110" fill="#b91f27"/>
<polygon points="463.3,90.6 464.2,90.6 463.7,106.4" fill="#b91f27"/>
<polygon points="448.1,90.6 449.2,90.6 448.7,98.8" fill="#b91f27"/>
<polygon points="443.5,90.6 444.3,90.6 443.8,120.7" fill="#8a6a3a"/>
<polygon points="461.1,90.6 462,90.6 461.5,120.2" fill="#8a6a3a"/>
<polygon points="463.9,90.6 464.8,90.6 464.2,102.6" fill="#8a6a3a"/>
<polygon points="458.3,90.6 459.4,90.6 458.9,125.1" fill="#8a6a3a"/>
<polygon points="445.7,90.6 446.7,90.6 446.2,118.2" fill="#8a6a3a"/>
<polygon points="461.3,90.6 462.6,90.6 462,122.6" fill="#8a6a3a"/>
<polygon points="461.9,90.6 462.8,90.6 462.4,115.7" fill="#8a6a3a"/>
<polygon points="454.8,90.6 455.8,90.6 455.5,106.9" fill="#8a6a3a"/>
<rect x="474.5" y="90.6" width="4.5" height="53.1" fill="#343e8b"/>
<rect x="484" y="93.3" width="2" height="50.4" fill="#343e8b"/>
<polygon points="491.7,90.6 494.5,90.6 493.5,116.8" fill="#b91f27"/>
<polygon points="494,90.6 495.5,90.6 495,116.7" fill="#b91f27"/>
<polygon points="487.1,90.6 488.2,90.6 487.8,109.7" fill="#b91f27"/>
<polygon points="487.9,90.6 490.6,90.6 489.3,125.6" fill="#b91f27"/>
<polygon points="499.1,90.6 502.1,90.6 501.2,103.7" fill="#b91f27"/>
<polygon points="488.3,90.6 490.3,90.6 489,113.6" fill="#b91f27"/>
<polygon points="493.9,90.6 496.4,90.6 494.9,104.1" fill="#b91f27"/>
<polygon points="497.7,90.6 499.7,90.6 498.4,108.5" fill="#b91f27"/>
<polygon points="487.1,90.6 488.8,90.6 488.2,110.1" fill="#b91f27"/>
<polygon points="490.7,90.6 492.1,90.6 491.2,121.7" fill="#b91f27"/>
<rect x="500.5" y="95.9" width="2" height="47.8" fill="#343e8b"/>
</g>
<rect x="30.9" y="91" width="476.2" height="52.2" fill="none" stroke="#000" stroke-opacity="0.3" stroke-width="0.9"/>
</svg>
<svg x="30.5" y="146.8" width="477.1" height="52.4" viewBox="30.5 146.8 477.1 52.4" overflow="hidden">
<g filter="url(#bl)">
<rect x="28.5" y="144.8" width="481.1" height="56.4" fill="#343e8b"/>
<rect x="30.5" y="146.8" width="46.2" height="52.4" fill="#343e8b"/>
<polygon points="30.5,146.8 41,146.8 41,157.3 36,162.5 33,165.1 30.5,167.8" fill="#22a855"/>
<polygon points="36,146.8 38,146.8 36.7,170.6" fill="#22a855"/>
<polygon points="35.7,146.8 37.7,146.8 36.9,174.9" fill="#22a855"/>
<rect x="30.5" y="146.8" width="2" height="52.4" fill="#22a855"/>
<polygon points="40.8,146.8 42.3,146.8 41.7,165.1" fill="#22a855"/>
<polygon points="41.3,146.8 42.7,146.8 41.9,177.1" fill="#22a855"/>
<polygon points="41.9,146.8 44.8,146.8 43.5,171.1" fill="#22a855"/>
<polygon points="39.2,146.8 41.4,146.8 40.2,178.2" fill="#22a855"/>
<polygon points="42.8,146.8 45.8,146.8 44,163" fill="#22a855"/>
<polygon points="44.3,146.8 45.6,146.8 45.1,150.7" fill="#22a855"/>
<polygon points="44.7,146.8 46.1,146.8 45.2,153.8" fill="#22a855"/>
<polygon points="69.1,146.8 72.1,146.8 70.6,153.9" fill="#22a855"/>
<polygon points="69.9,146.8 72.7,146.8 70.9,154.4" fill="#22a855"/>
<rect x="63.7" y="188.7" width="5" height="10.5" fill="#b91f27"/>
<rect x="76.7" y="146.8" width="42.9" height="52.4" fill="#b91f27"/>
<rect x="76.7" y="146.8" width="1.8" height="52.4" fill="#343e8b"/>
<polygon points="78,146.8 81,146.8 92.5,199.2 78,199.2" fill="#29a8dd"/>
<polygon points="81,146.8 86,146.8 95,199.2 92.5,199.2" fill="#b91f27"/>
<polygon points="83,157.3 85,157.3 93,199.2 91,199.2" fill="#8a6a3a"/>
<polygon points="86,146.8 105,146.8 105,199.2 95,199.2" fill="#22a855"/>
<polygon points="114.6,146.8 116.8,146.8 115.9,174.5" fill="#22a855"/>
<polygon points="110.3,146.8 113.1,146.8 112,181.7" fill="#22a855"/>
<polygon points="105.4,146.8 108.1,146.8 107.3,167" fill="#22a855"/>
<polygon points="107.7,146.8 110.2,146.8 108.7,182" fill="#22a855"/>
<polygon points="110,146.8 111.7,146.8 110.6,168.5" fill="#22a855"/>
<polygon points="112.1,146.8 114.1,146.8 113.2,170.9" fill="#22a855"/>
<polygon points="105.6,146.8 108.5,146.8 106.5,169.8" fill="#22a855"/>
<rect x="119.6" y="146.8" width="61" height="52.4" fill="#b91f27"/>
<polygon points="129.4,146.8 130.9,146.8 129.8,162.7" fill="#5c3378"/>
<polygon points="133.7,146.8 135,146.8 134.5,157.3" fill="#5c3378"/>
<polygon points="121.2,146.8 123.2,146.8 122,163" fill="#5c3378"/>
<polygon points="132.4,146.8 134.1,146.8 133.2,163.8" fill="#5c3378"/>
<polygon points="127.4,146.8 128.9,146.8 128.2,152.7" fill="#5c3378"/>
<polygon points="142.3,146.8 143.3,146.8 142.9,162.5" fill="#5c3378"/>
<polygon points="161.2,146.8 163,146.8 162,156.9" fill="#5c3378"/>
<polygon points="154.5,146.8 156.1,146.8 155,172.3" fill="#5c3378"/>
<polygon points="158.3,146.8 159.9,146.8 159,171.3" fill="#5c3378"/>
<polygon points="169.1,146.8 171,146.8 170,154.5" fill="#5c3378"/>
<polygon points="140.1,146.8 142.1,146.8 141.1,171.6" fill="#5c3378"/>
<polygon points="167.2,146.8 168.6,146.8 167.9,172.6" fill="#5c3378"/>
<polygon points="169.3,146.8 170.5,146.8 170,152.3" fill="#5c3378"/>
<polygon points="152,146.8 153.9,146.8 153.2,159.7" fill="#5c3378"/>
<polygon points="141.9,146.8 144,146.8 142.7,168.6" fill="#5c3378"/>
<polygon points="149.6,146.8 151.5,146.8 150.6,164.3" fill="#5c3378"/>
<polygon points="153.3,146.8 154.6,146.8 154.1,159.9" fill="#5c3378"/>
<polygon points="153.9,146.8 155.3,146.8 154.6,155.6" fill="#343e8b"/>
<polygon points="154.2,146.8 156.2,146.8 155.4,157.3" fill="#343e8b"/>
<polygon points="151.4,146.8 153.3,146.8 152.4,158.5" fill="#343e8b"/>
<rect x="130.7" y="158.2" width="0.9" height="41" fill="#8f8a6a"/>
<rect x="170.7" y="151.5" width="0.7" height="47.7" fill="#8f8a6a"/>
<rect x="137" y="173.9" width="0.7" height="25.3" fill="#8f8a6a"/>
<rect x="169.9" y="148.4" width="0.6" height="50.8" fill="#8f8a6a"/>
<rect x="131.7" y="165.3" width="0.9" height="33.9" fill="#8f8a6a"/>
<rect x="131.9" y="171.2" width="0.6" height="28" fill="#8f8a6a"/>
<rect x="172.6" y="150.9" width="1.1" height="48.3" fill="#8f8a6a"/>
<rect x="136.2" y="159.6" width="0.9" height="39.6" fill="#8f8a6a"/>
<rect x="165" y="165.1" width="0.6" height="34.1" fill="#8f8a6a"/>
<rect x="138.4" y="164.3" width="0.7" height="34.9" fill="#8f8a6a"/>
<rect x="125" y="146.8" width="1" height="26.2" fill="#8f8a6a"/>
<rect x="137.5" y="146.8" width="1.2" height="49.8" fill="#8f8a6a"/>
<rect x="150" y="152" width="1" height="47.2" fill="#8f8a6a"/>
<rect x="146" y="146.8" width="1" height="31.4" fill="#22a855"/>
<rect x="175" y="146.8" width="2" height="52.4" fill="#8f8a6a"/>
<rect x="177.3" y="146.8" width="1.5" height="52.4" fill="#29a8dd"/>
<rect x="178.8" y="146.8" width="1.4" height="52.4" fill="#22a855"/>
<rect x="180.6" y="146.8" width="45.3" height="52.4" fill="#b91f27"/>
<polygon points="183.1,146.8 184.3,146.8 183.9,159.4" fill="#5c3378"/>
<polygon points="184.8,146.8 186,146.8 185.5,159.2" fill="#5c3378"/>
<polygon points="182.1,146.8 183.7,146.8 182.6,153.7" fill="#5c3378"/>
<polygon points="195.3,146.8 197,146.8 196.3,154.3" fill="#5c3378"/>
<polygon points="205.1,146.8 206.6,146.8 205.6,155" fill="#5c3378"/>
<polygon points="201,146.8 203,146.8 202,154.3" fill="#5c3378"/>
<polygon points="209.9,146.8 211.1,146.8 210.3,150.1" fill="#5c3378"/>
<rect x="193" y="146.8" width="0.6" height="16.1" fill="#8f8a6a"/>
<rect x="207.8" y="146.8" width="1" height="15.4" fill="#8f8a6a"/>
<rect x="204.8" y="146.8" width="0.7" height="5.5" fill="#8f8a6a"/>
<rect x="212.1" y="146.8" width="0.9" height="11.3" fill="#8f8a6a"/>
<rect x="216.4" y="146.8" width="0.7" height="21" fill="#8f8a6a"/>
<rect x="212.7" y="146.8" width="1.1" height="16.2" fill="#8f8a6a"/>
<rect x="202.3" y="146.8" width="1" height="14.7" fill="#8f8a6a"/>
<rect x="197" y="146.8" width="0.9" height="4.2" fill="#8f8a6a"/>
<rect x="213.8" y="184" width="1.1" height="15.2" fill="#8f8a6a"/>
<rect x="185.7" y="188.2" width="0.9" height="11" fill="#8f8a6a"/>
<rect x="211" y="184.4" width="0.7" height="14.8" fill="#8f8a6a"/>
<rect x="208.5" y="184.8" width="0.7" height="14.4" fill="#8f8a6a"/>
<rect x="221" y="149.4" width="3" height="49.8" fill="#29a8dd"/>
<rect x="224.5" y="146.8" width="1.2" height="52.4" fill="#22a855"/>
<rect x="225.9" y="146.8" width="53.1" height="52.4" fill="#22a855"/>
<rect x="267.5" y="184.5" width="5" height="14.7" fill="#b91f27"/>
<rect x="264" y="171.4" width="1.5" height="27.8" fill="#8a6a3a"/>
<rect x="273" y="178.2" width="2" height="21" fill="#8a6a3a"/>
<rect x="270" y="173" width="2.5" height="26.2" fill="#b91f27"/>
<rect x="279" y="146.8" width="7" height="52.4" fill="#b91f27"/>
<rect x="286" y="146.8" width="10" height="52.4" fill="#29a8dd"/>
<polygon points="286,146.8 296,146.8 296,162.5 286,159.9" fill="#22a855"/>
<polygon points="294,146.8 295.4,146.8 294.4,162" fill="#343e8b"/>
<polygon points="291.2,146.8 293.9,146.8 292,159.2" fill="#343e8b"/>
<polygon points="288.8,146.8 291.4,146.8 290.1,160.5" fill="#343e8b"/>
<rect x="296" y="146.8" width="15" height="52.4" fill="#b91f27"/>
<polygon points="303.7,146.8 305.4,146.8 304.7,161.5" fill="#8a6a3a"/>
<polygon points="300.3,146.8 302.3,146.8 301.5,171.4" fill="#8a6a3a"/>
<polygon points="304.2,146.8 306.9,146.8 305.4,160.2" fill="#8a6a3a"/>
<polygon points="306.7,146.8 308.2,146.8 307.6,157.4" fill="#8a6a3a"/>
<polygon points="300.2,146.8 301.5,146.8 300.9,167.2" fill="#8a6a3a"/>
<polygon points="303.2,146.8 305.2,146.8 304.1,164.8" fill="#343e8b"/>
<polygon points="305.3,146.8 306.9,146.8 306,159.7" fill="#343e8b"/>
<polygon points="300.3,146.8 302.2,146.8 301.4,154.7" fill="#343e8b"/>
<rect x="311" y="146.8" width="4" height="52.4" fill="#b91f27"/>
<rect x="312" y="146.8" width="1.5" height="52.4" fill="#343e8b"/>
<rect x="315" y="167.8" width="4" height="31.4" fill="#29a8dd"/>
<rect x="319" y="146.8" width="6.3" height="52.4" fill="#22a855"/>
<rect x="319.8" y="183.2" width="1.4" height="16" fill="#8a6a3a"/>
<rect x="321.4" y="182.4" width="0.8" height="16.8" fill="#8a6a3a"/>
<rect x="325.3" y="146.8" width="44.8" height="52.4" fill="#b91f27"/>
<polygon points="342.5,146.8 360,146.8 360,199.2 353.8,199.2" fill="#22a855"/>
<rect x="365" y="146.8" width="1.4" height="52.4" fill="#29a8dd"/>
<rect x="370.1" y="146.8" width="39.1" height="52.4" fill="#29a8dd"/>
<polygon points="377.6,146.8 378.9,146.8 378.2,160.9" fill="#b91f27"/>
<polygon points="383.2,146.8 384.5,146.8 384.1,156.6" fill="#b91f27"/>
<polygon points="385.2,146.8 387.5,146.8 386.8,161" fill="#b91f27"/>
<polygon points="379.6,146.8 382.5,146.8 381.5,157.9" fill="#b91f27"/>
<polygon points="386.4,146.8 388.6,146.8 387.5,161.7" fill="#b91f27"/>
<polygon points="385.3,146.8 386.4,146.8 385.9,157.9" fill="#b91f27"/>
<polygon points="376.9,146.8 378.7,146.8 377.5,164.3" fill="#8a6a3a"/>
<polygon points="384.7,146.8 387.3,146.8 386.1,161.7" fill="#8a6a3a"/>
<polygon points="377,146.8 378.8,146.8 377.7,158.1" fill="#8a6a3a"/>
<polygon points="380.5,146.8 382.9,146.8 381.3,155.1" fill="#8a6a3a"/>
<polygon points="374.8,146.8 377.6,146.8 375.9,156.8" fill="#8a6a3a"/>
<polygon points="386.6,146.8 389.5,146.8 388,154.5" fill="#703f96"/>
<polygon points="389.4,146.8 391.7,146.8 390.4,155.4" fill="#703f96"/>
<polygon points="387.7,146.8 390.6,146.8 389.6,155.9" fill="#703f96"/>
<rect x="381.4" y="157.3" width="2" height="40.9" fill="#b91f27"/>
<rect x="387.5" y="152.2" width="1.3" height="47" fill="#8a6a3a"/>
<rect x="388.1" y="154.5" width="1.4" height="44.7" fill="#8a6a3a"/>
<rect x="386" y="161" width="0.6" height="38.2" fill="#8a6a3a"/>
<rect x="388.7" y="157.3" width="1.5" height="41.9" fill="#8a6a3a"/>
<polygon points="386,149.4 404.6,149.4 404.6,199.2 386,199.2" fill="#b91f27"/>
<rect x="387" y="162.5" width="1.3" height="36.7" fill="#29a8dd"/>
<rect x="389.5" y="159.9" width="1.5" height="39.3" fill="#29a8dd"/>
<rect x="388.3" y="152" width="1" height="36.7" fill="#703f96"/>
<polygon points="401.7,146.8 403.5,146.8 402.5,164.3" fill="#b91f27"/>
<polygon points="399.9,146.8 401.8,146.8 401,170.5" fill="#b91f27"/>
<polygon points="395.1,146.8 396.2,146.8 395.8,168.6" fill="#b91f27"/>
<polygon points="400.8,146.8 403.1,146.8 401.6,165.7" fill="#b91f27"/>
<polygon points="403.4,146.8 404.6,146.8 404,165.2" fill="#b91f27"/>
<rect x="399" y="146.8" width="3" height="24.6" fill="#22a855"/>
<rect x="403.3" y="146.8" width="2.2" height="52.4" fill="#22a855"/>
<rect x="405.5" y="146.8" width="1.9" height="52.4" fill="#29a8dd"/>
<rect x="407.4" y="146.8" width="1.8" height="52.4" fill="#343e8b"/>
<rect x="409.2" y="146.8" width="23.8" height="52.4" fill="#29a8dd"/>
<polygon points="416.1,146.8 418.5,146.8 417.7,160.3" fill="#703f96"/>
<polygon points="418.6,146.8 420.6,146.8 419.4,160" fill="#703f96"/>
<polygon points="417.8,146.8 419.9,146.8 418.8,161.3" fill="#703f96"/>
<rect x="421" y="157.3" width="2.8" height="31.4" fill="#343e8b"/>
<polygon points="422.4,146.8 423.8,146.8 423.3,173" fill="#703f96"/>
<polygon points="420.6,146.8 422,146.8 421.6,175" fill="#703f96"/>
<polygon points="419.2,146.8 420.7,146.8 420.1,164.4" fill="#703f96"/>
<polygon points="417.5,146.8 419.4,146.8 418.5,181.6" fill="#703f96"/>
<rect x="423.8" y="146.8" width="7.7" height="52.4" fill="#b91f27"/>
<polygon points="424.8,146.8 427.2,146.8 426.1,159.9" fill="#703f96"/>
<polygon points="423.9,146.8 426.9,146.8 425.7,161" fill="#703f96"/>
<polygon points="427.9,146.8 429.3,146.8 428.5,158.3" fill="#703f96"/>
<polygon points="427.2,146.8 429.2,146.8 428.5,158.3" fill="#8a6a3a"/>
<polygon points="428.2,146.8 429.6,146.8 429,157.5" fill="#8a6a3a"/>
<rect x="430.6" y="146.8" width="2.4" height="52.4" fill="#22a855"/>
<rect x="431.8" y="146.8" width="1.2" height="52.4" fill="#29a8dd"/>
<rect x="433" y="146.8" width="36.7" height="52.4" fill="#b91f27"/>
<polygon points="433,146.8 440,146.8 458,199.2 433,199.2" fill="#29a8dd"/>
<polygon points="436.1,146.8 438.5,146.8 437.4,154.2" fill="#703f96"/>
<polygon points="463.5,146.8 465.2,146.8 464.6,162.4" fill="#703f96"/>
<polygon points="460.5,146.8 462.3,146.8 461.6,159.5" fill="#703f96"/>
<polygon points="451.3,146.8 452.9,146.8 452.1,157.8" fill="#703f96"/>
<polygon points="446.8,146.8 448.5,146.8 447.4,154" fill="#703f96"/>
<polygon points="456.2,146.8 457.8,146.8 457.1,160.7" fill="#703f96"/>
<polygon points="459.6,146.8 462,146.8 460.7,153.4" fill="#703f96"/>
<polygon points="435.1,146.8 437.4,146.8 436.5,163.5" fill="#703f96"/>
<polygon points="434.4,146.8 436.1,146.8 434.9,153.3" fill="#703f96"/>
<polygon points="441.2,146.8 442.7,146.8 441.9,154" fill="#703f96"/>
<polygon points="442.5,146.8 445.3,146.8 443.5,153" fill="#22a855"/>
<polygon points="438,146.8 440.9,146.8 439.6,154.7" fill="#22a855"/>
<polygon points="446.4,146.8 448.8,146.8 447.5,152.4" fill="#22a855"/>
<polygon points="443.8,146.8 445,146.8 444.5,151.6" fill="#22a855"/>
<polygon points="436.2,146.8 438.1,146.8 437,149.7" fill="#22a855"/>
<rect x="448.7" y="162.7" width="0.9" height="36.5" fill="#29a8dd"/>
<rect x="451.1" y="183.5" width="1.5" height="15.7" fill="#29a8dd"/>
<rect x="442.8" y="163.7" width="0.8" height="35.5" fill="#29a8dd"/>
<rect x="440.3" y="177" width="0.8" height="22.2" fill="#29a8dd"/>
<rect x="469.7" y="146.8" width="37.9" height="52.4" fill="#29a8dd"/>
<polygon points="486.5,146.8 507.6,146.8 507.6,199.2 494,199.2" fill="#b91f27"/>
<polygon points="497,146.8 498.2,146.8 497.5,170.2" fill="#22a855"/>
<polygon points="493,146.8 495,146.8 494.2,167" fill="#22a855"/>
<polygon points="502.4,146.8 504.6,146.8 503.4,166.5" fill="#22a855"/>
<polygon points="497.3,146.8 499.1,146.8 498,166.3" fill="#22a855"/>
<polygon points="495.3,146.8 496.8,146.8 496,164.7" fill="#703f96"/>
<polygon points="494.7,146.8 496.9,146.8 495.5,164.1" fill="#703f96"/>
<polygon points="491.3,146.8 492.5,146.8 491.7,167.5" fill="#703f96"/>
<polygon points="493.9,146.8 495.6,146.8 494.7,164.5" fill="#703f96"/>
<rect x="506.3" y="146.8" width="1.3" height="52.4" fill="#22a855"/>
</g>
<rect x="30.9" y="147.2" width="476.2" height="51.5" fill="none" stroke="#000" stroke-opacity="0.3" stroke-width="0.9"/>
</svg>
<svg x="30.5" y="202.8" width="477.1" height="52" viewBox="30.5 202.8 477.1 52" overflow="hidden">
<g filter="url(#bl)">
<rect x="28.5" y="200.8" width="481.1" height="56" fill="#343e8b"/>
<rect x="30.5" y="202.8" width="46.2" height="52" fill="#29a8dd"/>
<rect x="30.5" y="202.8" width="1.5" height="52" fill="#e87023"/>
<polygon points="38.6,202.8 40.6,202.8 39.5,220.5" fill="#8a6a3a"/>
<polygon points="36.2,202.8 38.8,202.8 37.8,219.1" fill="#8a6a3a"/>
<polygon points="42.1,202.8 44.3,202.8 43,217" fill="#8a6a3a"/>
<polygon points="36.1,202.8 37.7,202.8 36.9,214.2" fill="#8a6a3a"/>
<polygon points="57.5,202.8 65,202.8 64,210.6 60,213.2 57.5,212.2" fill="#22a855"/>
<rect x="76.7" y="202.8" width="42.9" height="52" fill="#b91f27"/>
<rect x="76.7" y="202.8" width="1.3" height="52" fill="#343e8b"/>
<polygon points="77.5,202.8 85.5,202.8 92.5,254.8 77.5,254.8" fill="#22a855"/>
<rect x="84.2" y="239.3" width="0.7" height="15.5" fill="#343e8b"/>
<rect x="88.1" y="245.2" width="1.5" height="9.6" fill="#343e8b"/>
<rect x="79.6" y="247.8" width="1.2" height="7" fill="#343e8b"/>
<rect x="85.4" y="230.9" width="1" height="23.9" fill="#343e8b"/>
<rect x="89" y="231.4" width="0.9" height="23.4" fill="#343e8b"/>
<rect x="82" y="236.1" width="0.7" height="18.7" fill="#343e8b"/>
<polygon points="85.5,202.8 105,202.8 105,254.8 92.5,254.8" fill="#e87023"/>
<polygon points="107.5,202.8 119.6,202.8 119.6,254.8 117.5,254.8" fill="#343e8b"/>
<rect x="116" y="203.4" width="1.3" height="51.4" fill="#29a8dd"/>
<rect x="117.3" y="207.8" width="0.6" height="47" fill="#29a8dd"/>
<rect x="112.6" y="211.4" width="0.8" height="43.4" fill="#29a8dd"/>
<polygon points="114.4,202.8 116.4,202.8 115.3,214.6" fill="#703f96"/>
<polygon points="112.7,202.8 113.8,202.8 113.2,216.2" fill="#703f96"/>
<polygon points="105.6,202.8 108.2,202.8 106.7,215.6" fill="#703f96"/>
<polygon points="109.9,202.8 112.6,202.8 111.7,223" fill="#703f96"/>
<polygon points="112.6,202.8 114.7,202.8 113.4,222.5" fill="#8a6a3a"/>
<polygon points="107.1,202.8 110.1,202.8 108.8,228.1" fill="#8a6a3a"/>
<polygon points="111.7,202.8 114,202.8 112.9,219.6" fill="#8a6a3a"/>
<rect x="119.6" y="202.8" width="30.4" height="52" fill="#343e8b"/>
<rect x="129.5" y="202.8" width="2" height="34.3" fill="#29a8dd"/>
<rect x="131.5" y="202.8" width="1" height="41.6" fill="#3f7f86"/>
<rect x="138" y="208" width="1.2" height="41.6" fill="#29a8dd"/>
<rect x="140.6" y="202.8" width="2.4" height="52" fill="#22a855"/>
<rect x="122" y="202.8" width="1.2" height="52" fill="#3f7f86"/>
<rect x="125" y="202.8" width="1" height="36.4" fill="#8a6a3a"/>
<rect x="142.7" y="215.9" width="1.1" height="38.9" fill="#29a8dd"/>
<rect x="142.6" y="203.9" width="0.8" height="50.9" fill="#29a8dd"/>
<rect x="146.7" y="215.6" width="0.9" height="39.2" fill="#29a8dd"/>
<rect x="150" y="202.8" width="2.5" height="52" fill="#29a8dd"/>
<rect x="152.5" y="202.8" width="22.5" height="52" fill="#343e8b"/>
<rect x="160.3" y="220.3" width="0.7" height="34.5" fill="#29a8dd"/>
<rect x="161.8" y="209.8" width="1.1" height="45" fill="#29a8dd"/>
<rect x="162.5" y="217.6" width="1.1" height="37.2" fill="#29a8dd"/>
<rect x="163.3" y="208.5" width="0.7" height="46.3" fill="#29a8dd"/>
<rect x="171" y="213.5" width="1.3" height="41.3" fill="#29a8dd"/>
<rect x="158.2" y="216.8" width="1.4" height="38" fill="#29a8dd"/>
<polygon points="152.5,202.8 157,202.8 175,254.8 152.5,254.8" fill="#b91f27"/>
<rect x="174" y="202.8" width="3.5" height="52" fill="#e87023"/>
<rect x="177.5" y="202.8" width="3.1" height="52" fill="#22a855"/>
<rect x="180.6" y="202.8" width="6.9" height="52" fill="#22a855"/>
<rect x="183" y="202.8" width="1.5" height="52" fill="#29a8dd"/>
<rect x="185.5" y="202.8" width="1" height="52" fill="#29a8dd"/>
<rect x="187.5" y="202.8" width="38.4" height="52" fill="#343e8b"/>
<rect x="201" y="213.2" width="2" height="41.6" fill="#29a8dd"/>
<rect x="195" y="208" width="1.2" height="46.8" fill="#29a8dd"/>
<rect x="205" y="208" width="1" height="46.8" fill="#3f7f86"/>
<rect x="190" y="202.8" width="1" height="31.2" fill="#8a6a3a"/>
<polygon points="215.5,207 219.4,207 223,254.8 211.7,254.8" fill="#b91f27"/>
<rect x="223" y="202.8" width="2.9" height="52" fill="#22a855"/>
<rect x="223" y="202.8" width="1.5" height="52" fill="#29a8dd"/>
<rect x="225.9" y="202.8" width="53.1" height="52" fill="#e87023"/>
<polygon points="266,254.8 268.5,225.2 271,254.8" fill="#343e8b"/>
<rect x="251" y="239.2" width="1" height="15.6" fill="#8a6a3a"/>
<rect x="261" y="241.8" width="1" height="13" fill="#8a6a3a"/>
<polygon points="270,226.2 273,254.8 270,254.8" fill="#343e8b"/>
<rect x="278" y="202.8" width="7" height="52" fill="#343e8b"/>
<rect x="285" y="202.8" width="11" height="52" fill="#22a855"/>
<polygon points="285,202.8 289,202.8 287,221" fill="#e87023"/>
<polygon points="292,202.8 296,202.8 294,219.4" fill="#e87023"/>
<rect x="296" y="202.8" width="3" height="52" fill="#343e8b"/>
<rect x="299" y="202.8" width="11" height="52" fill="#b91f27"/>
<polygon points="307,202.8 311,202.8 309,218.4" fill="#e87023"/>
<rect x="310" y="202.8" width="4" height="52" fill="#343e8b"/>
<rect x="312" y="202.8" width="1" height="52" fill="#29a8dd"/>
<rect x="314" y="202.8" width="6" height="52" fill="#22a855"/>
<rect x="320" y="202.8" width="5.3" height="52" fill="#e87023"/>
<rect x="322" y="202.8" width="1" height="52" fill="#343e8b"/>
<rect x="325.3" y="202.8" width="44.8" height="52" fill="#343e8b"/>
<polygon points="341,202.8 360,202.8 360,254.8 354,254.8" fill="#e87023"/>
<rect x="346.8" y="222.2" width="0.7" height="32.6" fill="#29a8dd"/>
<rect x="354.7" y="225.6" width="0.7" height="29.2" fill="#29a8dd"/>
<rect x="349.5" y="225.2" width="1.3" height="29.6" fill="#29a8dd"/>
<rect x="360" y="202.8" width="5" height="52" fill="#b91f27"/>
<rect x="360" y="202.8" width="1.5" height="52" fill="#343e8b"/>
<rect x="365" y="202.8" width="5.1" height="52" fill="#29a8dd"/>
<rect x="367" y="202.8" width="1.5" height="52" fill="#22a855"/>
<rect x="370.1" y="202.8" width="9.9" height="52" fill="#22a855"/>
<rect x="380" y="226.2" width="3.5" height="28.6" fill="#343e8b"/>
<rect x="380" y="202.8" width="3.5" height="23.4" fill="#2a8a8a"/>
<rect x="383.5" y="202.8" width="8.8" height="52" fill="#22a855"/>
<rect x="392.3" y="202.8" width="11.7" height="52" fill="#343e8b"/>
<rect x="394" y="202.8" width="1.2" height="52" fill="#29a8dd"/>
<rect x="397" y="202.8" width="1.2" height="31.2" fill="#703f96"/>
<rect x="398.7" y="211.5" width="1" height="43.3" fill="#29a8dd"/>
<rect x="400.9" y="217.9" width="1.1" height="36.9" fill="#29a8dd"/>
<rect x="400.9" y="211.7" width="1.2" height="43.1" fill="#29a8dd"/>
<rect x="398" y="202.8" width="2" height="15.6" fill="#e87023"/>
<rect x="401" y="202.8" width="1.5" height="52" fill="#b91f27"/>
<rect x="404" y="202.8" width="2.7" height="52" fill="#e87023"/>
<rect x="406.7" y="202.8" width="2.5" height="52" fill="#22a855"/>
<rect x="409.2" y="202.8" width="14.8" height="52" fill="#22a855"/>
<rect x="414" y="208" width="1.5" height="46.8" fill="#29a8dd"/>
<rect x="424" y="202.8" width="9" height="52" fill="#343e8b"/>
<rect x="425" y="225.2" width="5" height="29.6" fill="#b91f27"/>
<rect x="433" y="202.8" width="36.7" height="52" fill="#22a855"/>
<rect x="436.5" y="234" width="1.5" height="20.8" fill="#343e8b"/>
<rect x="441" y="208" width="1.5" height="46.8" fill="#29a8dd"/>
<rect x="447" y="218.4" width="2" height="36.4" fill="#29a8dd"/>
<rect x="449" y="228.8" width="1.5" height="26" fill="#343e8b"/>
<rect x="445" y="213.2" width="1" height="41.6" fill="#343e8b"/>
<polygon points="434.5,202.8 437.2,202.8 436.2,213.5" fill="#e87023"/>
<polygon points="445,202.8 447,202.8 446,213.1" fill="#e87023"/>
<polygon points="456.2,202.8 458.2,202.8 457.3,210.6" fill="#e87023"/>
<polygon points="460.5,209 464.4,254.8 452.7,254.8" fill="#b91f27"/>
<rect x="464.4" y="202.8" width="3.9" height="52" fill="#343e8b"/>
<rect x="465" y="202.8" width="1.2" height="52" fill="#29a8dd"/>
<rect x="467" y="202.8" width="1" height="52" fill="#703f96"/>
<rect x="469.7" y="202.8" width="16.3" height="52" fill="#22a855"/>
<rect x="486" y="202.8" width="8" height="52" fill="#343e8b"/>
<rect x="488" y="202.8" width="1.5" height="52" fill="#29a8dd"/>
<rect x="491" y="202.8" width="1.5" height="52" fill="#22a855"/>
<polygon points="486,202.8 487.9,202.8 486.8,208.6" fill="#e87023"/>
<polygon points="489.5,202.8 491.2,202.8 490.4,210.8" fill="#e87023"/>
<rect x="494" y="215.3" width="4.8" height="39.5" fill="#b91f27"/>
<rect x="494" y="202.8" width="4.8" height="12.5" fill="#343e8b"/>
<rect x="498.8" y="202.8" width="6.2" height="52" fill="#343e8b"/>
<rect x="500" y="202.8" width="1.5" height="52" fill="#29a8dd"/>
<rect x="503" y="213.2" width="1.2" height="41.6" fill="#29a8dd"/>
<rect x="505" y="202.8" width="2.6" height="52" fill="#e87023"/>
</g>
<rect x="30.9" y="203.2" width="476.2" height="51.1" fill="none" stroke="#000" stroke-opacity="0.3" stroke-width="0.9"/>
</svg>
<svg x="30.5" y="258.8" width="477.1" height="51.8" viewBox="30.5 258.8 477.1 51.8" overflow="hidden">
<g filter="url(#bl)">
<rect x="28.5" y="256.8" width="481.1" height="55.8" fill="#343e8b"/>
<rect x="30.5" y="258.8" width="46.2" height="51.8" fill="#29a8dd"/>
<rect x="30.6" y="258.8" width="1.1" height="51.8" fill="#b91f27"/>
<polygon points="40,258.8 56.5,258.8 56.5,276.9 51,282.1 49,295.1 46.4,295.1 44,276.9 40,269.2" fill="#343e8b"/>
<polygon points="42.8,258.8 44.7,258.8 44.1,296.8" fill="#343e8b"/>
<polygon points="49.8,258.8 51.5,258.8 50.5,279.3" fill="#343e8b"/>
<polygon points="50.4,258.8 51.9,258.8 51.4,279.3" fill="#343e8b"/>
<polygon points="43,258.8 44.1,258.8 43.6,276.4" fill="#343e8b"/>
<polygon points="47.1,258.8 48.6,258.8 47.9,281.9" fill="#343e8b"/>
<polygon points="43.1,258.8 44.7,258.8 43.8,284.4" fill="#343e8b"/>
<polygon points="52.6,258.8 53.8,258.8 53.3,290.2" fill="#343e8b"/>
<polygon points="45.6,258.8 47.9,258.8 46.7,283.2" fill="#343e8b"/>
<polygon points="58.3,258.8 63.8,258.8 63.8,269.2 58.3,270.2" fill="#e87023"/>
<rect x="72.2" y="258.8" width="1.8" height="6.2" fill="#343e8b"/>
<rect x="76.7" y="258.8" width="42.9" height="51.8" fill="#343e8b"/>
<rect x="93.2" y="258.8" width="1.3" height="51.8" fill="#8a6a3a"/>
<rect x="92.3" y="292" width="1.2" height="18.6" fill="#b91f27"/>
<rect x="95" y="258.8" width="2.8" height="51.8" fill="#22a855"/>
<rect x="97.8" y="258.8" width="1.8" height="51.8" fill="#8a6a3a"/>
<rect x="99.6" y="274.3" width="5.4" height="36.3" fill="#22a855"/>
<polygon points="104.8,258.8 109.5,258.8 115.2,310.6 103.3,310.6" fill="#703f96"/>
<rect x="110.5" y="261.4" width="0.7" height="49.2" fill="#29a8dd"/>
<rect x="110.1" y="264.8" width="1.2" height="45.8" fill="#29a8dd"/>
<rect x="109.9" y="259.5" width="1.2" height="51.1" fill="#29a8dd"/>
<rect x="118.9" y="258.8" width="0.9" height="51.8" fill="#8a6a3a"/>
<rect x="84.5" y="287.3" width="1" height="23.3" fill="#8a6a3a"/>
<rect x="88" y="295.1" width="1" height="15.5" fill="#29a8dd"/>
<rect x="141" y="258.8" width="2" height="51.8" fill="#8a6a3a"/>
<polygon points="150,258.8 157.5,258.8 173.8,310.6 150,310.6" fill="#703f96"/>
<rect x="151" y="258.8" width="7" height="51.8" fill="#703f96"/>
<rect x="162.3" y="270" width="1.5" height="40.6" fill="#29a8dd"/>
<rect x="159.5" y="260" width="1.3" height="50.6" fill="#29a8dd"/>
<rect x="158.4" y="264.7" width="1.1" height="45.9" fill="#29a8dd"/>
<rect x="167.1" y="260.6" width="1.4" height="50" fill="#29a8dd"/>
<rect x="173.8" y="258.8" width="3.5" height="51.8" fill="#e87023"/>
<polygon points="212.5,259.8 214.7,259.8 222.2,310.6 209.3,310.6" fill="#703f96"/>
<rect x="214.5" y="258.8" width="1.2" height="25.9" fill="#29a8dd"/>
<rect x="221.5" y="258.8" width="3.5" height="51.8" fill="#e87023"/>
<rect x="225.9" y="258.8" width="4.3" height="51.8" fill="#22a855"/>
<rect x="230.2" y="258.8" width="2.9" height="51.8" fill="#b91f27"/>
<rect x="233.1" y="258.8" width="5.3" height="51.8" fill="#8a7a40"/>
<rect x="238.4" y="258.8" width="2.1" height="51.8" fill="#9a6a3a"/>
<rect x="240.5" y="258.8" width="3.2" height="51.8" fill="#22a855"/>
<rect x="243.7" y="258.8" width="2.9" height="51.8" fill="#a05a30"/>
<rect x="246.6" y="258.8" width="3.5" height="51.8" fill="#5a9a50"/>
<rect x="250.1" y="258.8" width="1.8" height="51.8" fill="#7a7a50"/>
<rect x="250.1" y="258.8" width="1.8" height="10.4" fill="#343e8b"/>
<rect x="251.9" y="258.8" width="4.1" height="51.8" fill="#b0603a"/>
<rect x="256" y="258.8" width="2.3" height="51.8" fill="#22a855"/>
<rect x="258.3" y="258.8" width="2.4" height="51.8" fill="#5a8a6a"/>
<rect x="260.7" y="258.8" width="3.5" height="51.8" fill="#22a855"/>
<rect x="264.2" y="258.8" width="3.5" height="51.8" fill="#8a7a4a"/>
<rect x="264.2" y="258.8" width="3.5" height="7.8" fill="#343e8b"/>
<rect x="267.7" y="258.8" width="22.3" height="51.8" fill="#343e8b"/>
<rect x="267.7" y="284.7" width="3.6" height="25.9" fill="#703f96"/>
<rect x="275.3" y="285.6" width="0.7" height="25" fill="#22a855"/>
<rect x="274.5" y="270.3" width="0.6" height="40.3" fill="#22a855"/>
<rect x="272.9" y="280.1" width="0.7" height="30.5" fill="#22a855"/>
<rect x="275.3" y="274.7" width="1" height="35.9" fill="#22a855"/>
<rect x="273.4" y="282.4" width="1.1" height="28.2" fill="#29a8dd"/>
<rect x="273" y="278.6" width="1" height="32" fill="#29a8dd"/>
<rect x="275" y="258.8" width="1.5" height="51.8" fill="#8a6a3a"/>
<rect x="290" y="258.8" width="5" height="51.8" fill="#8a6a3a"/>
<rect x="292" y="258.8" width="1.5" height="51.8" fill="#e87023"/>
<rect x="295" y="258.8" width="15" height="51.8" fill="#703f96"/>
<rect x="297" y="258.8" width="1.5" height="51.8" fill="#8a6a3a"/>
<rect x="302" y="264" width="1" height="20.7" fill="#29a8dd"/>
<rect x="311" y="258.8" width="2" height="51.8" fill="#e87023"/>
<rect x="314.5" y="258.8" width="2" height="51.8" fill="#e87023"/>
<polygon points="354.9,258.8 359.3,258.8 359.3,310.6 350.5,310.6" fill="#22a855"/>
<rect x="357.5" y="258.8" width="1.2" height="51.8" fill="#8a6a3a"/>
<rect x="359.3" y="258.8" width="2.6" height="51.8" fill="#703f96"/>
<rect x="365.4" y="274.3" width="1.8" height="36.3" fill="#29a8dd"/>
<rect x="376.9" y="258.8" width="1.7" height="51.8" fill="#6a2c6c"/>
<rect x="383.9" y="258.8" width="4.4" height="51.8" fill="#c0603a"/>
<rect x="389.2" y="258.8" width="2.2" height="51.8" fill="#6a2c6c"/>
<rect x="396" y="278.5" width="1.4" height="32.1" fill="#29a8dd"/>
<rect x="404" y="258.8" width="1.9" height="51.8" fill="#703f96"/>
<rect x="406.2" y="258.8" width="3" height="51.8" fill="#d83a20"/>
<rect x="419.8" y="258.8" width="1.6" height="51.8" fill="#8a6a3a"/>
<polygon points="425,266.6 428,266.6 430.6,310.6 422.4,310.6" fill="#703f96"/>
<rect x="427" y="274" width="1.5" height="36.6" fill="#29a8dd"/>
<rect x="424.7" y="273.6" width="0.8" height="37" fill="#29a8dd"/>
<polygon points="460.4,259.8 466.5,310.6 452.2,310.6" fill="#703f96"/>
<rect x="450.4" y="294.9" width="1.4" height="15.7" fill="#29a8dd"/>
<rect x="449.9" y="294.6" width="1.5" height="16" fill="#29a8dd"/>
<rect x="447.6" y="289.2" width="0.9" height="21.4" fill="#29a8dd"/>
<rect x="447.3" y="293.2" width="1.3" height="17.4" fill="#29a8dd"/>
<rect x="474.7" y="258.8" width="4.1" height="51.8" fill="#e87023"/>
<rect x="484" y="258.8" width="3" height="51.8" fill="#b0603a"/>
<polygon points="497,279.5 503.4,310.6 491,310.6" fill="#703f96"/>
<rect x="497.7" y="269.5" width="1.2" height="41.1" fill="#29a8dd"/>
<rect x="496.7" y="270.3" width="1.4" height="40.3" fill="#29a8dd"/>
<rect x="496.6" y="273" width="1.3" height="37.6" fill="#29a8dd"/>
</g>
<rect x="30.9" y="259.2" width="476.2" height="50.9" fill="none" stroke="#000" stroke-opacity="0.3" stroke-width="0.9"/>
</svg>
<svg x="30.5" y="314.6" width="477.1" height="42.4" viewBox="30.5 314.6 477.1 42.4" overflow="hidden">
<g filter="url(#bl)">
<rect x="28.5" y="312.6" width="481.1" height="46.4" fill="#343e8b"/>
<rect x="30.5" y="314.6" width="26.6" height="42.4" fill="#29a8dd"/>
<rect x="30.5" y="314.6" width="1.5" height="42.4" fill="#eee93a"/>
<polygon points="32,314.6 41,314.6 37,357 32,357" fill="#703f96"/>
<rect x="57.1" y="314.6" width="19.6" height="42.4" fill="#703f96"/>
<polygon points="75,323.1 76.7,318.8 76.7,357 67.5,357" fill="#29a8dd"/>
<polygon points="65,314.6 74,314.6 72,327.3 66,325.2" fill="#b91f27"/>
<rect x="76.7" y="314.6" width="42.9" height="42.4" fill="#343e8b"/>
<polygon points="77,357 86,340 91,335.8 95,331.6 95,357" fill="#22a855"/>
<rect x="82.9" y="348" width="1.3" height="9" fill="#b91f27"/>
<rect x="85.5" y="345.3" width="1" height="11.7" fill="#b91f27"/>
<rect x="82.8" y="343.6" width="0.8" height="13.4" fill="#b91f27"/>
<rect x="84.9" y="345.5" width="0.8" height="11.5" fill="#e87023"/>
<rect x="81.2" y="344.3" width="0.9" height="12.7" fill="#e87023"/>
<rect x="92.6" y="342.9" width="0.8" height="14.1" fill="#e87023"/>
<rect x="89.3" y="349.5" width="1" height="7.5" fill="#29a8dd"/>
<rect x="92.4" y="350.7" width="1.2" height="6.3" fill="#29a8dd"/>
<rect x="83.6" y="351.2" width="0.9" height="5.8" fill="#eee93a"/>
<rect x="91.9" y="351" width="0.6" height="6" fill="#eee93a"/>
<polygon points="95.5,314.6 99.4,314.6 101,331.6 105.2,344.3 105.2,357 88.6,357 89.6,346.4 94.5,331.6" fill="#eee93a"/>
<polygon points="99.4,314.6 103.3,314.6 103.3,335.8 101,333.7" fill="#22a855"/>
<polygon points="103.3,314.6 113,314.6 112,352.8 107,354.9 105.2,344.3 103.3,337.9" fill="#b91f27"/>
<rect x="115" y="323.1" width="1.5" height="33.9" fill="#e87023"/>
<rect x="117" y="327.3" width="1.2" height="29.7" fill="#22a855"/>
<polygon points="116.2,357 117.3,357 116.6,348.2" fill="#22a855"/>
<polygon points="107.8,357 109.9,357 109.2,347.2" fill="#22a855"/>
<polygon points="112.4,357 114,357 113.1,349.6" fill="#22a855"/>
<polygon points="109.8,357 111.7,357 111.1,349.8" fill="#22a855"/>
<polygon points="115.3,357 118.2,357 116.9,352.6" fill="#eee93a"/>
<polygon points="105.1,357 106.2,357 105.6,351.8" fill="#eee93a"/>
<polygon points="115.2,357 116.7,357 115.9,351.5" fill="#eee93a"/>
<rect x="119.6" y="314.6" width="11.4" height="42.4" fill="#e87023"/>
<rect x="131" y="314.6" width="20" height="42.4" fill="#22a855"/>
<polygon points="131,314.6 135.2,314.6 131,357" fill="#e87023"/>
<polygon points="122.7,314.6 124.5,314.6 123.6,327.3" fill="#703f96"/>
<polygon points="126.4,314.6 128.9,314.6 127.9,322.9" fill="#703f96"/>
<polygon points="127.8,314.6 129,314.6 128.3,323.8" fill="#703f96"/>
<polygon points="135,314.6 131,314.6 130,357 131,357" fill="#22a855"/>
<polygon points="127,314.6 133,314.6 130,327.3" fill="#b91f27"/>
<rect x="145" y="314.6" width="2.5" height="42.4" fill="#29a8dd"/>
<rect x="147.5" y="314.6" width="3.5" height="42.4" fill="#343e8b"/>
<rect x="151" y="314.6" width="24" height="42.4" fill="#b91f27"/>
<polygon points="175,327.3 175,357 156.7,357" fill="#22a855"/>
<rect x="161.4" y="347.1" width="0.8" height="9.9" fill="#29a8dd"/>
<rect x="168.9" y="341.7" width="0.8" height="15.3" fill="#29a8dd"/>
<rect x="169.1" y="343.2" width="1.5" height="13.8" fill="#29a8dd"/>
<rect x="172" y="349.6" width="0.7" height="7.4" fill="#29a8dd"/>
<rect x="161.5" y="350.4" width="0.9" height="6.6" fill="#29a8dd"/>
<rect x="164.3" y="341.2" width="1.4" height="15.8" fill="#eee93a"/>
<rect x="171.3" y="349.1" width="0.7" height="7.9" fill="#eee93a"/>
<rect x="169.8" y="346.8" width="1.5" height="10.2" fill="#eee93a"/>
<rect x="167.7" y="345.8" width="1.2" height="11.2" fill="#eee93a"/>
<polygon points="135.2,314.6 131,314.6 130,357 130.9,357" fill="#22a855"/>
<rect x="129.5" y="340" width="2" height="17" fill="#29a8dd"/>
<rect x="175" y="314.6" width="2.5" height="42.4" fill="#eee93a"/>
<rect x="177.5" y="314.6" width="3.1" height="42.4" fill="#343e8b"/>
<rect x="180.6" y="314.6" width="9.4" height="42.4" fill="#e87023"/>
<rect x="180.6" y="314.6" width="9.4" height="8.5" fill="#343e8b"/>
<rect x="187.5" y="314.6" width="26.5" height="42.4" fill="#22a855"/>
<polygon points="205,314.6 222.5,314.6 221,357 214,357" fill="#b91f27"/>
<rect x="222.5" y="314.6" width="2.5" height="42.4" fill="#eee93a"/>
<rect x="225" y="314.6" width="0.9" height="42.4" fill="#343e8b"/>
<rect x="225.9" y="314.6" width="52.1" height="42.4" fill="#eee93a"/>
<polygon points="245.2,314.6 247.9,314.6 246,325.6" fill="#343e8b"/>
<polygon points="246.2,314.6 248.5,314.6 247.3,324" fill="#343e8b"/>
<polygon points="244.7,314.6 246.1,314.6 245.6,324.7" fill="#343e8b"/>
<rect x="251.8" y="314.6" width="1" height="17.8" fill="#22a855"/>
<rect x="254.5" y="314.6" width="0.9" height="14.2" fill="#22a855"/>
<rect x="256.1" y="314.6" width="1.2" height="17.2" fill="#22a855"/>
<rect x="250.3" y="314.6" width="1.4" height="25.1" fill="#22a855"/>
<rect x="251.8" y="314.6" width="1.1" height="17.6" fill="#22a855"/>
<rect x="250.1" y="314.6" width="1.1" height="21.7" fill="#22a855"/>
<polygon points="262.5,314.6 272.5,314.6 268,331.6" fill="#b91f27"/>
<rect x="262" y="314.6" width="63.3" height="42.4" fill="#22a855"/>
<polygon points="264,314.6 272.3,314.6 270,335.8 266,340 264,323.1" fill="#b91f27"/>
<polygon points="262,323.1 264,323.1 270,333.7 272,346.4 274,335.8 277,333.7 280,337.9 284,352.8 286,357 262,357" fill="#eee93a"/>
<polygon points="286.6,314.6 299,314.6 293.4,357 288,357" fill="#343e8b"/>
<polygon points="299,314.6 310.5,314.6 305.8,357 299,357" fill="#b91f27"/>
<polygon points="294.8,357 297,327.3 299,327.3 299,357" fill="#e87023"/>
<polygon points="310.5,314.6 316,314.6 319.4,333.7 319.4,357 305.8,357" fill="#e87023"/>
<rect x="316" y="314.6" width="4" height="17.8" fill="#343e8b"/>
<rect x="319.4" y="314.6" width="5.9" height="42.4" fill="#e87023"/>
<rect x="319.4" y="337.9" width="5.9" height="19.1" fill="#eee93a"/>
<rect x="292.9" y="351.5" width="1" height="5.5" fill="#29a8dd"/>
<rect x="289.4" y="348.6" width="1.4" height="8.4" fill="#29a8dd"/>
<rect x="295.7" y="350.8" width="0.8" height="6.2" fill="#29a8dd"/>
<rect x="292.7" y="348.5" width="1.3" height="8.5" fill="#22a855"/>
<rect x="300.6" y="348.3" width="0.7" height="8.7" fill="#22a855"/>
<rect x="301.1" y="350.2" width="1.1" height="6.8" fill="#22a855"/>
<rect x="298.6" y="350.2" width="0.9" height="6.8" fill="#eee93a"/>
<rect x="299.1" y="350" width="1.1" height="7" fill="#eee93a"/>
<rect x="299.6" y="349.5" width="1" height="7.5" fill="#eee93a"/>
<rect x="325.3" y="314.6" width="34.5" height="42.4" fill="#22a855"/>
<polygon points="340.4,314.6 342.6,314.6 341.9,321" fill="#e87023"/>
<polygon points="339.3,314.6 340.6,314.6 339.8,321.1" fill="#e87023"/>
<polygon points="341.9,314.6 343.1,314.6 342.7,321.6" fill="#e87023"/>
<polygon points="355.4,315.4 359.8,315.4 359.8,357 346.6,357" fill="#eee93a"/>
<rect x="359.8" y="321" width="3.5" height="36" fill="#b91f27"/>
<rect x="359.8" y="314.6" width="3.5" height="6.4" fill="#703f96"/>
<rect x="363.3" y="314.6" width="3.5" height="42.4" fill="#343e8b"/>
<rect x="366.8" y="314.6" width="1.8" height="42.4" fill="#e87023"/>
<rect x="368.6" y="314.6" width="1.5" height="42.4" fill="#343e8b"/>
<rect x="370.1" y="314.6" width="39.1" height="42.4" fill="#343e8b"/>
<rect x="380" y="323.1" width="3.5" height="33.9" fill="#22a855"/>
<polygon points="387,314.6 397.6,314.6 394,357 383.5,357" fill="#e87023"/>
<polygon points="397.6,314.6 402.9,314.6 402.9,357 392.3,357" fill="#22a855"/>
<rect x="402.9" y="314.6" width="1.7" height="42.4" fill="#e87023"/>
<rect x="404.6" y="314.6" width="2.7" height="42.4" fill="#eee93a"/>
<rect x="407.3" y="314.6" width="1.9" height="42.4" fill="#343e8b"/>
<rect x="377.9" y="349.6" width="0.9" height="7.4" fill="#22a855"/>
<rect x="381.4" y="350.2" width="0.7" height="6.8" fill="#22a855"/>
<rect x="389" y="347.4" width="1.3" height="9.6" fill="#22a855"/>
<rect x="381.1" y="350.8" width="0.8" height="6.2" fill="#29a8dd"/>
<rect x="372.8" y="351.4" width="0.9" height="5.6" fill="#29a8dd"/>
<rect x="409.2" y="314.6" width="23.8" height="42.4" fill="#343e8b"/>
<polygon points="424.5,314.6 431.7,314.6 431.7,344.3 421.4,342.2" fill="#b91f27"/>
<polygon points="423.4,357 424.6,357 424.2,339.2" fill="#22a855"/>
<polygon points="421.9,357 423.8,357 422.7,332.3" fill="#22a855"/>
<polygon points="420.1,357 422.3,357 421.6,335.7" fill="#22a855"/>
<polygon points="423.2,357 425.4,357 423.8,334" fill="#22a855"/>
<polygon points="427.9,357 429.6,357 428.7,334.7" fill="#22a855"/>
<polygon points="419.1,357 420.5,357 419.6,338.8" fill="#22a855"/>
<polygon points="423.8,357 426.2,357 424.6,337.5" fill="#22a855"/>
<polygon points="423.4,357 425,357 424.5,346" fill="#eee93a"/>
<polygon points="426.1,357 427.9,357 427.2,344.6" fill="#eee93a"/>
<polygon points="423.2,357 425,357 424.1,347.6" fill="#eee93a"/>
<polygon points="422.5,357 424.5,357 423.6,345.3" fill="#eee93a"/>
<polygon points="414.6,357 415.6,357 414.9,344.2" fill="#e87023"/>
<polygon points="413.7,357 415.6,357 414.5,342.8" fill="#e87023"/>
<polygon points="415.7,357 417.6,357 416.5,344.9" fill="#e87023"/>
<rect x="433" y="314.6" width="36.7" height="42.4" fill="#343e8b"/>
<polygon points="446,314.6 466.5,314.6 465,357 452,357 446,335.8" fill="#b91f27"/>
<polygon points="449.7,357 452.1,357 451.3,341.3" fill="#22a855"/>
<polygon points="457.1,357 458.8,357 457.7,343.7" fill="#22a855"/>
<polygon points="457.3,357 459.7,357 458.5,343.9" fill="#22a855"/>
<polygon points="440.7,357 442.4,357 441.4,342.6" fill="#22a855"/>
<polygon points="439.7,357 440.9,357 440.2,329.6" fill="#22a855"/>
<polygon points="445.8,357 447.2,357 446.7,342.5" fill="#22a855"/>
<polygon points="453.4,357 455.1,357 454,327.5" fill="#22a855"/>
<polygon points="448,357 449.8,357 449,331.2" fill="#22a855"/>
<polygon points="437.9,357 439.5,357 438.9,335.2" fill="#22a855"/>
<polygon points="447,357 449.4,357 448.5,335.6" fill="#22a855"/>
<polygon points="440.5,357 442.4,357 441.3,338.2" fill="#eee93a"/>
<polygon points="444.3,357 446,357 445.2,340.8" fill="#eee93a"/>
<polygon points="455.3,357 456.3,357 455.8,346.6" fill="#eee93a"/>
<polygon points="452.5,357 454.4,357 453.3,339" fill="#eee93a"/>
<polygon points="439.5,357 441,357 440,342.3" fill="#eee93a"/>
<polygon points="442.1,357 444,357 443.1,340.8" fill="#eee93a"/>
<polygon points="463.1,357 464.8,357 463.9,344.2" fill="#e87023"/>
<polygon points="458.4,357 459.6,357 458.8,333.9" fill="#e87023"/>
<polygon points="439.8,357 441.5,357 440.9,335.8" fill="#e87023"/>
<polygon points="443.7,357 444.8,357 444.2,333.2" fill="#e87023"/>
<polygon points="442.9,357 444.7,357 443.9,343.5" fill="#29a8dd"/>
<polygon points="436.1,357 437.9,357 436.9,343.9" fill="#29a8dd"/>
<polygon points="439.5,357 440.8,357 440.3,344.1" fill="#29a8dd"/>
<rect x="469.7" y="314.6" width="37.9" height="42.4" fill="#343e8b"/>
<rect x="493.2" y="314.6" width="8.2" height="31.8" fill="#b91f27"/>
<polygon points="493.6,357 495.5,357 494.6,340.4" fill="#22a855"/>
<polygon points="492.3,357 494,357 492.9,342.9" fill="#22a855"/>
<polygon points="487.2,357 489.1,357 488.2,338.5" fill="#22a855"/>
<polygon points="496.3,357 497.8,357 497,341" fill="#22a855"/>
<polygon points="492.1,357 494.3,357 492.8,339.9" fill="#22a855"/>
<polygon points="494.7,357 495.8,357 495.1,343.7" fill="#eee93a"/>
<polygon points="499.1,357 500.2,357 499.6,345.1" fill="#eee93a"/>
<polygon points="498.5,357 500.1,357 499.6,345.9" fill="#eee93a"/>
<rect x="501.4" y="314.6" width="6.2" height="42.4" fill="#22a855"/>
<rect x="503" y="314.6" width="1.5" height="42.4" fill="#eee93a"/>
<rect x="505.2" y="323.1" width="1.2" height="33.9" fill="#29a8dd"/>
</g>
<rect x="30.9" y="315.1" width="476.2" height="41.5" fill="none" stroke="#000" stroke-opacity="0.3" stroke-width="0.9"/>
</svg>
<svg x="30.5" y="421.8" width="477.1" height="53.8" viewBox="30.5 421.8 477.1 53.8" overflow="hidden">
<g filter="url(#bl)">
<rect x="28.5" y="419.8" width="481.1" height="57.8" fill="#343e8b"/>
<rect x="30.5" y="421.8" width="3.1" height="53.8" fill="#b91f27"/>
<rect x="401" y="437.9" width="0.6" height="37.7" fill="#b91f27"/>
</g>
<rect x="30.9" y="422.2" width="476.2" height="52.9" fill="none" stroke="#000" stroke-opacity="0.3" stroke-width="0.9"/>
</svg>
<svg x="30.5" y="478.6" width="477.1" height="53.7" viewBox="30.5 478.6 477.1 53.7" overflow="hidden">
<g filter="url(#bl)">
<rect x="28.5" y="476.6" width="481.1" height="57.7" fill="#343e8b"/>
<rect x="30.5" y="478.6" width="2.7" height="53.7" fill="#22a855"/>
<rect x="33.2" y="478.6" width="46.9" height="53.7" fill="#343e8b"/>
<rect x="33.8" y="478.6" width="3.8" height="53.7" fill="#b91f27"/>
<rect x="42.5" y="478.6" width="3.8" height="53.7" fill="#b91f27"/>
<rect x="48.8" y="478.6" width="6.2" height="53.7" fill="#b91f27"/>
<rect x="62.5" y="478.6" width="7.5" height="53.7" fill="#b91f27"/>
<rect x="72.5" y="478.6" width="5" height="53.7" fill="#b91f27"/>
<rect x="39" y="484" width="1" height="48.3" fill="#b91f27"/>
<rect x="58" y="478.6" width="1.5" height="43" fill="#b91f27"/>
<rect x="51" y="489.3" width="1" height="43" fill="#343e8b"/>
<rect x="65" y="494.7" width="1" height="37.6" fill="#343e8b"/>
<rect x="75" y="478.6" width="1" height="32.2" fill="#343e8b"/>
<rect x="110" y="484" width="2" height="48.3" fill="#b91f27"/>
<rect x="113.5" y="478.6" width="2" height="48.3" fill="#6a2c6c"/>
<rect x="125" y="478.6" width="2.5" height="53.7" fill="#b91f27"/>
<rect x="127.5" y="478.6" width="1.5" height="53.7" fill="#6a2c6c"/>
<rect x="129.5" y="481.3" width="2.5" height="51" fill="#b91f27"/>
<rect x="137.5" y="478.6" width="2.5" height="53.7" fill="#b91f27"/>
<rect x="140" y="478.6" width="1.5" height="53.7" fill="#6a2c6c"/>
<rect x="142" y="478.6" width="2.5" height="48.3" fill="#b91f27"/>
<rect x="95" y="484" width="1" height="21.5" fill="#b91f27"/>
<rect x="102" y="481.3" width="1" height="18.8" fill="#b91f27"/>
<rect x="155" y="478.6" width="1" height="53.7" fill="#6a2c6c"/>
<rect x="161" y="484" width="1.2" height="48.3" fill="#6a2c6c"/>
<rect x="165" y="478.6" width="1.5" height="53.7" fill="#6a2c6c"/>
<rect x="166.5" y="478.6" width="1" height="37.6" fill="#b91f27"/>
<rect x="172.5" y="478.6" width="2" height="53.7" fill="#6a2c6c"/>
<rect x="182.5" y="478.6" width="1.5" height="53.7" fill="#b91f27"/>
<rect x="184.5" y="478.6" width="1.5" height="53.7" fill="#6a2c6c"/>
<rect x="187" y="478.6" width="1.5" height="43" fill="#b91f27"/>
<rect x="189" y="478.6" width="1.2" height="53.7" fill="#6a2c6c"/>
<rect x="191" y="478.6" width="1.5" height="53.7" fill="#6a2c6c"/>
<rect x="193" y="478.6" width="1" height="53.7" fill="#b91f27"/>
<rect x="197.7" y="478.6" width="37.3" height="53.7" fill="#b91f27"/>
<rect x="200" y="478.6" width="1.5" height="53.7" fill="#343e8b"/>
<rect x="203" y="489.3" width="2" height="43" fill="#343e8b"/>
<rect x="208" y="478.6" width="1.5" height="53.7" fill="#343e8b"/>
<rect x="212" y="478.6" width="2.5" height="53.7" fill="#343e8b"/>
<rect x="218" y="484" width="1.5" height="48.3" fill="#343e8b"/>
<rect x="222" y="478.6" width="2" height="53.7" fill="#343e8b"/>
<rect x="227" y="494.7" width="1.5" height="37.6" fill="#343e8b"/>
<rect x="231" y="478.6" width="2" height="53.7" fill="#343e8b"/>
<rect x="235" y="478.6" width="43" height="53.7" fill="#b91f27"/>
<rect x="215.8" y="478.6" width="1.2" height="53.7" fill="#6a2c6c"/>
<rect x="210.4" y="478.6" width="1.4" height="53.7" fill="#6a2c6c"/>
<rect x="224" y="478.6" width="1.3" height="53.7" fill="#6a2c6c"/>
<rect x="230" y="478.6" width="1.4" height="53.7" fill="#6a2c6c"/>
<rect x="208.6" y="478.6" width="1" height="53.7" fill="#6a2c6c"/>
<rect x="203.8" y="478.6" width="1.2" height="53.7" fill="#6a2c6c"/>
<polygon points="275,478.6 278,478.6 278,532.3 270,532.3" fill="#343e8b"/>
<rect x="270" y="510.8" width="4" height="21.5" fill="#343e8b"/>
<rect x="274" y="478.6" width="20" height="53.7" fill="#343e8b"/>
<rect x="275" y="478.6" width="2.5" height="53.7" fill="#b91f27"/>
<rect x="285" y="484" width="2.5" height="48.3" fill="#b91f27"/>
<rect x="294" y="478.6" width="13.3" height="53.7" fill="#b91f27"/>
<rect x="297" y="494.7" width="1.5" height="37.6" fill="#343e8b"/>
<rect x="302" y="478.6" width="1.5" height="53.7" fill="#343e8b"/>
<rect x="307.3" y="478.6" width="49.3" height="53.7" fill="#343e8b"/>
<polygon points="326.8,478.6 328.2,478.6 327.4,501.3" fill="#b91f27"/>
<polygon points="329,478.6 330.6,478.6 329.8,504.8" fill="#b91f27"/>
<polygon points="315.7,478.6 316.9,478.6 316.3,509.5" fill="#b91f27"/>
<polygon points="320.4,478.6 322.5,478.6 321.2,506.6" fill="#b91f27"/>
<polygon points="313.4,478.6 314.8,478.6 314.1,502.3" fill="#b91f27"/>
<polygon points="325.9,478.6 327.7,478.6 327,508.7" fill="#b91f27"/>
<polygon points="312.7,478.6 314.8,478.6 313.7,512" fill="#b91f27"/>
<polygon points="314.1,478.6 315.8,478.6 314.6,502.1" fill="#b91f27"/>
<rect x="337.5" y="478.6" width="17.5" height="53.7" fill="#b91f27"/>
<rect x="345" y="478.6" width="2.5" height="53.7" fill="#343e8b"/>
<polygon points="361.9,478.6 363.6,478.6 363,524.2" fill="#b91f27"/>
<polygon points="366.9,478.6 368.3,478.6 367.8,525.8" fill="#b91f27"/>
<polygon points="368.7,478.6 369.8,478.6 369.4,507" fill="#b91f27"/>
<polygon points="364,478.6 365.2,478.6 364.7,510.9" fill="#b91f27"/>
<polygon points="366.2,478.6 368.4,478.6 367.6,522.4" fill="#b91f27"/>
<polygon points="363.1,478.6 365.1,478.6 364.2,521.1" fill="#b91f27"/>
<rect x="372" y="478.6" width="1.5" height="53.7" fill="#b91f27"/>
<rect x="378" y="489.3" width="1.5" height="43" fill="#b91f27"/>
<rect x="383" y="478.6" width="1.5" height="53.7" fill="#b91f27"/>
<rect x="390.2" y="478.6" width="9.1" height="53.7" fill="#b91f27"/>
<rect x="400.2" y="478.6" width="2.5" height="53.7" fill="#b91f27"/>
<rect x="409" y="478.6" width="2.5" height="53.7" fill="#b91f27"/>
<rect x="419" y="478.6" width="5" height="53.7" fill="#b91f27"/>
<rect x="421" y="500.1" width="1" height="32.2" fill="#343e8b"/>
<rect x="426.5" y="478.6" width="6.5" height="26.8" fill="#b91f27"/>
<polygon points="429.4,478.6 431,478.6 430.2,511.6" fill="#b91f27"/>
<polygon points="428.6,478.6 430.1,478.6 429.3,519.1" fill="#b91f27"/>
<polygon points="430.2,478.6 432,478.6 431.2,514.9" fill="#b91f27"/>
<rect x="437" y="478.6" width="2.5" height="53.7" fill="#6a2c6c"/>
<rect x="446" y="478.6" width="1.2" height="37.6" fill="#b91f27"/>
<rect x="450" y="484" width="1.2" height="48.3" fill="#b91f27"/>
<rect x="455" y="478.6" width="9" height="53.7" fill="#b91f27"/>
<rect x="459" y="494.7" width="1" height="37.6" fill="#343e8b"/>
<rect x="466.5" y="478.6" width="7.5" height="53.7" fill="#b91f27"/>
<rect x="478" y="478.6" width="1.5" height="53.7" fill="#b91f27"/>
<rect x="483" y="478.6" width="1.5" height="53.7" fill="#b91f27"/>
<rect x="489" y="478.6" width="5" height="53.7" fill="#b91f27"/>
<rect x="497" y="478.6" width="1.5" height="53.7" fill="#b91f27"/>
<rect x="501.5" y="478.6" width="6.1" height="53.7" fill="#b91f27"/>
</g>
<rect x="30.9" y="479.1" width="476.2" height="52.8" fill="none" stroke="#000" stroke-opacity="0.3" stroke-width="0.9"/>
</svg>
<svg x="30.5" y="535.2" width="477.1" height="54.2" viewBox="30.5 535.2 477.1 54.2" overflow="hidden">
<g filter="url(#bl)">
<rect x="28.5" y="533.2" width="481.1" height="58.2" fill="#343e8b"/>
<rect x="30.5" y="535.2" width="2.8" height="54.2" fill="#343e8b"/>
<rect x="33.3" y="535.2" width="4.2" height="54.2" fill="#22a855"/>
<rect x="37.5" y="535.2" width="3.7" height="54.2" fill="#b91f27"/>
<rect x="38.5" y="573.1" width="1" height="16.3" fill="#8a6a3a"/>
<rect x="41.2" y="535.2" width="38.9" height="54.2" fill="#29a8dd"/>
<polygon points="48.7,535.2 50.8,535.2 49.4,554.6" fill="#8a6a3a"/>
<polygon points="49.6,535.2 51.2,535.2 50.2,556" fill="#8a6a3a"/>
<polygon points="51.2,535.2 52.9,535.2 51.9,558.1" fill="#8a6a3a"/>
<polygon points="50.6,535.2 52.8,535.2 51.5,555.2" fill="#8a6a3a"/>
<polygon points="46.6,535.2 48.8,535.2 47.6,551.9" fill="#22a855"/>
<polygon points="50.3,535.2 52.8,535.2 51.3,554.3" fill="#22a855"/>
<polygon points="47.2,535.2 48.9,535.2 48,554" fill="#703f96"/>
<polygon points="53.5,535.2 57.5,535.2 57,589.4 55,589.4" fill="#b91f27"/>
<rect x="57.9" y="535.2" width="1.8" height="54.2" fill="#22a855"/>
<polygon points="61.4,535.2 64.3,535.2 63,567.7" fill="#b91f27"/>
<polygon points="62.5,535.2 65.1,535.2 63.9,560.5" fill="#8a6a3a"/>
<polygon points="64.6,535.2 67.3,535.2 65.4,559.3" fill="#8a6a3a"/>
<polygon points="65.1,535.2 67.6,535.2 66.1,558.3" fill="#8a6a3a"/>
<polygon points="63,535.2 64.8,535.2 64.2,554" fill="#22a855"/>
<polygon points="63.5,535.2 64.9,535.2 64,554.5" fill="#22a855"/>
<rect x="67.8" y="535.2" width="2.2" height="54.2" fill="#b91f27"/>
<rect x="70" y="535.2" width="1.5" height="54.2" fill="#8a6a3a"/>
<rect x="72.5" y="535.2" width="7.6" height="54.2" fill="#8a6a3a"/>
<rect x="75" y="548.8" width="4.6" height="40.6" fill="#b91f27"/>
<rect x="73.5" y="567.7" width="1" height="21.7" fill="#29a8dd"/>
<rect x="80.1" y="535.2" width="67.2" height="54.2" fill="#b91f27"/>
<rect x="94.4" y="535.2" width="1.4" height="9.2" fill="#8a6a3a"/>
<rect x="97" y="535.2" width="1.5" height="24.4" fill="#8a6a3a"/>
<rect x="110.8" y="535.2" width="1.2" height="14.6" fill="#8a6a3a"/>
<rect x="102" y="535.2" width="1" height="5.4" fill="#8a6a3a"/>
<rect x="117" y="535.2" width="1" height="8.1" fill="#8a6a3a"/>
<rect x="108.4" y="564.7" width="0.8" height="24.7" fill="#8a6a3a"/>
<rect x="115.6" y="564.7" width="0.9" height="24.7" fill="#8a6a3a"/>
<rect x="116.8" y="560.6" width="1" height="28.8" fill="#8a6a3a"/>
<rect x="107.2" y="562.3" width="1" height="27.1" fill="#8a6a3a"/>
<rect x="117.3" y="568.7" width="1.2" height="20.7" fill="#8a6a3a"/>
<rect x="114.9" y="575.4" width="0.9" height="14" fill="#29a8dd"/>
<rect x="114.1" y="577.8" width="0.8" height="11.6" fill="#29a8dd"/>
<rect x="113.4" y="566.9" width="0.8" height="22.5" fill="#29a8dd"/>
<polygon points="127.5,535.2 129.5,535.2 131.5,589.4 126.5,589.4" fill="#29a8dd"/>
<rect x="132.5" y="556.9" width="1.5" height="32.5" fill="#29a8dd"/>
<polygon points="136.8,589.4 138,567.7 140,567.7 142.3,589.4" fill="#29a8dd"/>
<rect x="142.5" y="535.2" width="3" height="54.2" fill="#22a855"/>
<rect x="141.5" y="535.2" width="1" height="54.2" fill="#8a6a3a"/>
<rect x="147.2" y="535.2" width="50.4" height="54.2" fill="#b91f27"/>
<polygon points="172.1,535.2 174.8,535.2 172.9,555.9" fill="#8a6a3a"/>
<polygon points="166,535.2 167,535.2 166.6,554.6" fill="#8a6a3a"/>
<polygon points="173.3,535.2 176.2,535.2 174.7,551.1" fill="#8a6a3a"/>
<polygon points="173.7,535.2 174.9,535.2 174.2,546.7" fill="#8a6a3a"/>
<polygon points="169.9,535.2 171.8,535.2 170.7,549" fill="#8a6a3a"/>
<polygon points="165.9,535.2 167.3,535.2 166.3,551.6" fill="#8a6a3a"/>
<polygon points="170.5,535.2 171.8,535.2 170.9,549" fill="#22a855"/>
<polygon points="173.9,535.2 176,535.2 174.6,544.4" fill="#22a855"/>
<polygon points="166.6,535.2 169.6,535.2 168.3,549.2" fill="#22a855"/>
<polygon points="185,546 190,589.4 184,589.4" fill="#29a8dd"/>
<rect x="182.4" y="566.8" width="1.1" height="22.6" fill="#29a8dd"/>
<rect x="187.2" y="561.6" width="1" height="27.8" fill="#29a8dd"/>
<rect x="192.6" y="565.2" width="1.3" height="24.2" fill="#29a8dd"/>
<rect x="190.2" y="556.4" width="1" height="33" fill="#8a6a3a"/>
<rect x="191.1" y="556.5" width="0.6" height="32.9" fill="#8a6a3a"/>
<rect x="181.7" y="548.7" width="0.9" height="40.7" fill="#8a6a3a"/>
<rect x="197.7" y="535.2" width="37.3" height="54.2" fill="#b91f27"/>
<polygon points="197.7,535.2 210,535.2 232.5,589.4 197.7,589.4" fill="#29a8dd"/>
<rect x="215.8" y="535.2" width="0.8" height="4.5" fill="#8a6a3a"/>
<rect x="228.6" y="535.2" width="0.8" height="18.8" fill="#8a6a3a"/>
<rect x="211.4" y="535.2" width="1.1" height="26.2" fill="#8a6a3a"/>
<rect x="213.2" y="535.2" width="0.9" height="12.5" fill="#8a6a3a"/>
<rect x="219.4" y="535.2" width="0.9" height="15.4" fill="#8a6a3a"/>
<rect x="219.3" y="535.2" width="1.5" height="20.7" fill="#8a6a3a"/>
<rect x="235" y="535.2" width="43" height="54.2" fill="#b91f27"/>
<polygon points="235,535.2 275.6,535.2 268.8,589.4 240,589.4" fill="#22a855"/>
<rect x="235.8" y="535.2" width="0.7" height="7.3" fill="#8a6a3a"/>
<rect x="237.3" y="535.2" width="0.6" height="14.3" fill="#8a6a3a"/>
<rect x="236.8" y="535.2" width="1" height="10.4" fill="#8a6a3a"/>
<rect x="275" y="535.2" width="19" height="54.2" fill="#b91f27"/>
<polygon points="291.7,535.2 294.3,535.2 292.8,554.5" fill="#8a6a3a"/>
<polygon points="287.1,535.2 289.1,535.2 288.3,553" fill="#8a6a3a"/>
<polygon points="291.4,535.2 293.1,535.2 292.2,566.6" fill="#8a6a3a"/>
<polygon points="286.3,535.2 288.8,535.2 287.2,564.9" fill="#8a6a3a"/>
<rect x="294" y="559.6" width="2.8" height="29.8" fill="#29a8dd"/>
<rect x="296.8" y="535.2" width="2.5" height="54.2" fill="#8a6a3a"/>
<rect x="299.3" y="535.2" width="2.3" height="54.2" fill="#29a8dd"/>
<rect x="301.6" y="535.2" width="5.7" height="54.2" fill="#22a855"/>
<rect x="307.3" y="535.2" width="25.2" height="54.2" fill="#b91f27"/>
<polygon points="326.6,535.2 329,535.2 327.9,572.1" fill="#8a6a3a"/>
<polygon points="330,535.2 331.5,535.2 330.8,571.4" fill="#8a6a3a"/>
<polygon points="321.5,535.2 323.4,535.2 322.7,561.4" fill="#8a6a3a"/>
<polygon points="323.1,535.2 325.5,535.2 324.3,564" fill="#8a6a3a"/>
<polygon points="316.3,535.2 317.6,535.2 317.1,555.3" fill="#8a6a3a"/>
<polygon points="318.6,535.2 320,535.2 319.3,558.8" fill="#8a6a3a"/>
<polygon points="332.5,589.4 335,562.3 338,562.3 340,589.4" fill="#29a8dd"/>
<rect x="340" y="535.2" width="7.5" height="54.2" fill="#22a855"/>
<rect x="347.5" y="535.2" width="9.1" height="54.2" fill="#b91f27"/>
<rect x="349" y="535.2" width="1.5" height="54.2" fill="#22a855"/>
<rect x="352" y="556.9" width="1.5" height="32.5" fill="#29a8dd"/>
<rect x="356.6" y="535.2" width="35.9" height="54.2" fill="#b91f27"/>
<polygon points="356.6,535.2 365,535.2 377.5,589.4 356.6,589.4" fill="#29a8dd"/>
<rect x="370.3" y="535.2" width="1.5" height="4" fill="#8a6a3a"/>
<rect x="375.8" y="535.2" width="1.5" height="16.9" fill="#8a6a3a"/>
<rect x="373.5" y="535.2" width="1.4" height="0.7" fill="#8a6a3a"/>
<rect x="373.2" y="535.2" width="1.3" height="23.4" fill="#8a6a3a"/>
<rect x="380" y="535.2" width="4" height="54.2" fill="#b91f27"/>
<rect x="387.8" y="562.3" width="2.5" height="27.1" fill="#29a8dd"/>
<rect x="392.5" y="535.2" width="6.9" height="54.2" fill="#22a855"/>
<rect x="391.5" y="556.9" width="7.9" height="32.5" fill="#29a8dd"/>
<rect x="399.4" y="535.2" width="25.8" height="54.2" fill="#b91f27"/>
<polygon points="399.4,535.2 406.5,535.2 414,589.4 399.4,589.4" fill="#29a8dd"/>
<rect x="407.8" y="535.2" width="2.5" height="24.4" fill="#703f96"/>
<polygon points="411.8,535.2 414.7,535.2 413.7,550.3" fill="#8a6a3a"/>
<polygon points="416.8,535.2 419.6,535.2 418.6,555.8" fill="#8a6a3a"/>
<polygon points="419.9,535.2 422.9,535.2 421.4,559.2" fill="#8a6a3a"/>
<polygon points="418.5,535.2 420.1,535.2 419.5,560.7" fill="#8a6a3a"/>
<rect x="425.2" y="535.2" width="39.9" height="54.2" fill="#b91f27"/>
<polygon points="425.2,535.2 431.5,535.2 444,589.4 425.2,589.4" fill="#29a8dd"/>
<rect x="429" y="535.2" width="2.5" height="21.7" fill="#22a855"/>
<polygon points="454.7,535.2 456.1,535.2 455.6,554.2" fill="#8a6a3a"/>
<polygon points="432.1,535.2 434,535.2 433.3,555.8" fill="#8a6a3a"/>
<polygon points="447.7,535.2 449.6,535.2 448.3,558.7" fill="#8a6a3a"/>
<polygon points="442.5,535.2 445,535.2 443.3,563.5" fill="#8a6a3a"/>
<polygon points="445.1,535.2 446.9,535.2 446,561.5" fill="#8a6a3a"/>
<polygon points="438.3,535.2 440.5,535.2 439.6,552.4" fill="#8a6a3a"/>
<rect x="459" y="535.2" width="6.1" height="54.2" fill="#29a8dd"/>
<rect x="455" y="556.9" width="1.2" height="32.5" fill="#29a8dd"/>
<rect x="465.1" y="535.2" width="28.9" height="54.2" fill="#29a8dd"/>
<rect x="478" y="540.6" width="1.5" height="48.8" fill="#8a6a3a"/>
<rect x="482" y="551.5" width="1.5" height="37.9" fill="#b91f27"/>
<rect x="486" y="546" width="1.5" height="43.4" fill="#8a6a3a"/>
<rect x="490" y="540.6" width="1.5" height="48.8" fill="#b91f27"/>
<rect x="494" y="535.2" width="12.5" height="54.2" fill="#b91f27"/>
<rect x="506.5" y="535.2" width="1.1" height="54.2" fill="#22a855"/>
</g>
<rect x="30.9" y="535.7" width="476.2" height="53.3" fill="none" stroke="#000" stroke-opacity="0.3" stroke-width="0.9"/>
</svg>
<svg x="30.5" y="592.2" width="477.1" height="54.1" viewBox="30.5 592.2 477.1 54.1" overflow="hidden">
<g filter="url(#bl)">
<rect x="28.5" y="590.2" width="481.1" height="58.1" fill="#343e8b"/>
<rect x="30.5" y="592.2" width="2.8" height="54.1" fill="#29a8dd"/>
<rect x="33.3" y="592.2" width="3.5" height="54.1" fill="#22a855"/>
<rect x="36.8" y="592.2" width="5.2" height="54.1" fill="#e87023"/>
<rect x="36.8" y="592.2" width="1.2" height="54.1" fill="#8a6a3a"/>
<rect x="42" y="592.2" width="9.4" height="54.1" fill="#343e8b"/>
<polygon points="48.3,592.2 50.4,592.2 49.6,625" fill="#6a2c6c"/>
<polygon points="48.2,592.2 50.8,592.2 49.2,626.8" fill="#6a2c6c"/>
<polygon points="46.1,592.2 48.8,592.2 47.5,624.7" fill="#6a2c6c"/>
<polygon points="46.4,592.2 48.2,592.2 47,619" fill="#8a6a3a"/>
<polygon points="48.1,592.2 49.5,592.2 48.9,619.7" fill="#8a6a3a"/>
<rect x="51.4" y="592.2" width="1.8" height="54.1" fill="#2f6aa0"/>
<rect x="53.2" y="592.2" width="4.1" height="54.1" fill="#e87023"/>
<rect x="57.3" y="592.2" width="0.6" height="54.1" fill="#343e8b"/>
<rect x="57.9" y="592.2" width="2.3" height="54.1" fill="#22a855"/>
<rect x="60.2" y="592.2" width="3" height="54.1" fill="#343e8b"/>
<rect x="61.5" y="592.2" width="1.7" height="35.2" fill="#e87023"/>
<rect x="63.2" y="592.2" width="5.2" height="54.1" fill="#343e8b"/>
<polygon points="63.4,592.2 65.6,592.2 64,621.5" fill="#6a2c6c"/>
<polygon points="65.4,592.2 67.8,592.2 66.3,616.6" fill="#6a2c6c"/>
<polygon points="64.1,592.2 67,592.2 65,618.7" fill="#6a2c6c"/>
<rect x="68.4" y="592.2" width="4.1" height="54.1" fill="#e87023"/>
<rect x="69.5" y="592.2" width="1.5" height="54.1" fill="#8a6a3a"/>
<rect x="70" y="622" width="1.8" height="24.3" fill="#343e8b"/>
<rect x="72.5" y="592.2" width="7.6" height="54.1" fill="#e87023"/>
<rect x="75" y="608.4" width="1.7" height="37.9" fill="#8a6a3a"/>
<rect x="77.5" y="592.2" width="1.5" height="54.1" fill="#8a6a3a"/>
<rect x="80.1" y="592.2" width="67.2" height="54.1" fill="#e87023"/>
<rect x="112.2" y="616.5" width="1.3" height="29.8" fill="#6a2c6c"/>
<rect x="120" y="623.4" width="1.3" height="22.9" fill="#6a2c6c"/>
<rect x="121.2" y="622.5" width="1" height="23.8" fill="#6a2c6c"/>
<rect x="120.8" y="623" width="1" height="23.3" fill="#6a2c6c"/>
<rect x="120" y="632.8" width="2" height="13.5" fill="#343e8b"/>
<polygon points="127.9,592.2 130,592.2 130.6,608.4 130.6,646.3 126.5,646.3 126.5,608.4" fill="#343e8b"/>
<rect x="130.6" y="592.2" width="2.1" height="54.1" fill="#8a6a3a"/>
<polygon points="132.7,646.3 134,608.4 136,619.2 139.5,646.3" fill="#343e8b"/>
<rect x="134.9" y="610.8" width="1.4" height="35.5" fill="#6a2c6c"/>
<rect x="135.6" y="618.3" width="0.6" height="28" fill="#6a2c6c"/>
<rect x="135.9" y="610.9" width="1.2" height="35.4" fill="#6a2c6c"/>
<rect x="139.5" y="600.3" width="2.8" height="46" fill="#343e8b"/>
<rect x="140.5" y="608.4" width="1" height="37.9" fill="#29a8dd"/>
<rect x="142.3" y="592.2" width="4.1" height="54.1" fill="#8a6a3a"/>
<rect x="143.5" y="592.2" width="1.5" height="54.1" fill="#22a855"/>
<rect x="147.2" y="592.2" width="50.4" height="54.1" fill="#e87023"/>
<rect x="169" y="638.2" width="1" height="8.1" fill="#b91f27"/>
<rect x="181.2" y="592.2" width="2.8" height="54.1" fill="#8a6a3a"/>
<polygon points="186,605.7 191.5,605.7 192,646.3 186,646.3" fill="#343e8b"/>
<rect x="188.1" y="605.2" width="0.9" height="41.1" fill="#8a6a3a"/>
<rect x="190.1" y="611.6" width="1" height="34.7" fill="#8a6a3a"/>
<rect x="191.7" y="608.2" width="0.9" height="38.1" fill="#8a6a3a"/>
<rect x="187.6" y="603.4" width="1.1" height="42.9" fill="#22a855"/>
<rect x="190.3" y="607.9" width="0.6" height="38.4" fill="#22a855"/>
<rect x="191.5" y="603" width="4.1" height="43.3" fill="#8a6a3a"/>
<rect x="192" y="624.7" width="3.6" height="21.6" fill="#343e8b"/>
<rect x="195.6" y="592.2" width="1.5" height="54.1" fill="#8a6a3a"/>
<rect x="197.7" y="592.2" width="38.3" height="54.1" fill="#e87023"/>
<polygon points="197.7,592.2 210,592.2 230,646.3 197.7,646.3" fill="#343e8b"/>
<rect x="222.8" y="592.2" width="1.3" height="10.3" fill="#8a6a3a"/>
<rect x="214.8" y="592.2" width="1" height="23.4" fill="#8a6a3a"/>
<rect x="228.8" y="592.2" width="1.2" height="16.5" fill="#8a6a3a"/>
<rect x="226.4" y="592.2" width="1.4" height="3.1" fill="#8a6a3a"/>
<rect x="220.3" y="592.2" width="1.4" height="9.3" fill="#8a6a3a"/>
<rect x="233.6" y="592.2" width="1" height="10.2" fill="#8a6a3a"/>
<rect x="236" y="592.2" width="34" height="54.1" fill="#e87023"/>
<polygon points="236,592.2 265,592.2 270,646.3 237.5,646.3" fill="#22a855"/>
<rect x="270" y="592.2" width="24" height="54.1" fill="#e87023"/>
<polygon points="297.5,592.2 302.5,646.3 292.5,646.3" fill="#343e8b"/>
<rect x="298.1" y="604.2" width="0.8" height="42.1" fill="#8a6a3a"/>
<rect x="299.5" y="599.7" width="0.7" height="46.6" fill="#8a6a3a"/>
<rect x="295.1" y="604.4" width="1.3" height="41.9" fill="#8a6a3a"/>
<rect x="299" y="603" width="1.2" height="43.3" fill="#22a855"/>
<rect x="302.5" y="592.2" width="4.8" height="54.1" fill="#b91f27"/>
<rect x="307.3" y="592.2" width="25.2" height="54.1" fill="#e87023"/>
<rect x="318" y="630.1" width="1.2" height="16.2" fill="#8a6a3a"/>
<rect x="322" y="624.7" width="1.2" height="21.6" fill="#8a6a3a"/>
<polygon points="337.6,592.2 339.6,592.2 339.6,646.3 334.2,646.3" fill="#343e8b"/>
<rect x="321" y="636.6" width="1.5" height="9.7" fill="#8a6a3a"/>
<rect x="324.6" y="626.8" width="1.4" height="19.5" fill="#8a6a3a"/>
<rect x="332" y="619.2" width="2" height="27" fill="#8a6a3a"/>
<rect x="339.6" y="592.2" width="6.9" height="54.1" fill="#22a855"/>
<rect x="346.5" y="592.2" width="2" height="54.1" fill="#8a6a3a"/>
<rect x="348.5" y="592.2" width="3.5" height="54.1" fill="#343e8b"/>
<rect x="348.5" y="592.2" width="3.5" height="16.2" fill="#8a6a3a"/>
<rect x="352" y="592.2" width="4.6" height="54.1" fill="#b91f27"/>
<rect x="356.6" y="592.2" width="33.4" height="54.1" fill="#e87023"/>
<polygon points="356.6,592.2 367.5,592.2 377.5,646.3 356.6,646.3" fill="#343e8b"/>
<rect x="385" y="592.2" width="1.4" height="19" fill="#8a6a3a"/>
<rect x="372.6" y="592.2" width="1" height="8.6" fill="#8a6a3a"/>
<rect x="383.2" y="592.2" width="0.9" height="0.5" fill="#8a6a3a"/>
<rect x="373.6" y="592.2" width="1.4" height="16.2" fill="#8a6a3a"/>
<rect x="390" y="592.2" width="9.4" height="54.1" fill="#343e8b"/>
<rect x="393" y="592.2" width="1.5" height="54.1" fill="#22a855"/>
<rect x="395.2" y="604.1" width="2.5" height="42.2" fill="#22a855"/>
<rect x="384" y="592.2" width="7.5" height="54.1" fill="#e87023"/>
<rect x="386" y="603" width="1.2" height="43.3" fill="#343e8b"/>
<rect x="389" y="592.2" width="1.2" height="54.1" fill="#8a6a3a"/>
<rect x="399.4" y="592.2" width="25.8" height="54.1" fill="#e87023"/>
<polygon points="399.4,592.2 410,592.2 415.6,646.3 399.4,646.3" fill="#343e8b"/>
<rect x="399.6" y="592.2" width="1.5" height="54.1" fill="#22a855"/>
<rect x="416.3" y="629.4" width="1.3" height="16.9" fill="#8a6a3a"/>
<rect x="417" y="626.9" width="0.7" height="19.4" fill="#8a6a3a"/>
<rect x="410.5" y="629.9" width="1.4" height="16.4" fill="#8a6a3a"/>
<rect x="425.2" y="592.2" width="33.8" height="54.1" fill="#e87023"/>
<polygon points="425.2,592.2 430.2,592.2 440.2,646.3 425.2,646.3" fill="#343e8b"/>
<rect x="436.6" y="626.8" width="0.9" height="19.5" fill="#8a6a3a"/>
<rect x="454.8" y="618.4" width="1.3" height="27.9" fill="#8a6a3a"/>
<rect x="455.8" y="620.8" width="1" height="25.5" fill="#8a6a3a"/>
<rect x="459" y="592.2" width="6.1" height="54.1" fill="#343e8b"/>
<rect x="465.1" y="592.2" width="26.4" height="54.1" fill="#343e8b"/>
<polygon points="476.2,592.2 477.9,592.2 477.2,621.1" fill="#e87023"/>
<polygon points="475.1,592.2 477.1,592.2 476,622.4" fill="#e87023"/>
<rect x="482.8" y="592.2" width="3.8" height="54.1" fill="#e87023"/>
<rect x="489" y="592.2" width="2.5" height="54.1" fill="#8a6a3a"/>
<rect x="475.6" y="603.7" width="1.3" height="42.6" fill="#8a6a3a"/>
<rect x="471" y="609.6" width="0.9" height="36.7" fill="#8a6a3a"/>
<rect x="473.4" y="620.7" width="1.4" height="25.6" fill="#8a6a3a"/>
<rect x="491.5" y="592.2" width="14.5" height="54.1" fill="#e87023"/>
<rect x="506" y="592.2" width="1.6" height="54.1" fill="#22a855"/>
</g>
<rect x="30.9" y="592.7" width="476.2" height="53.2" fill="none" stroke="#000" stroke-opacity="0.3" stroke-width="0.9"/>
</svg>
<svg x="30.5" y="649.4" width="477.1" height="43.4" viewBox="30.5 649.4 477.1 43.4" overflow="hidden">
<g filter="url(#bl)">
<rect x="28.5" y="647.4" width="481.1" height="47.4" fill="#343e8b"/>
<rect x="30.5" y="649.4" width="3" height="43.4" fill="#22a855"/>
<rect x="33.5" y="649.4" width="2.7" height="43.4" fill="#29a8dd"/>
<rect x="36.2" y="649.4" width="5.5" height="43.4" fill="#e87023"/>
<rect x="36.2" y="649.4" width="1.5" height="43.4" fill="#703f96"/>
<rect x="37.7" y="649.4" width="1.2" height="43.4" fill="#343e8b"/>
<rect x="41.7" y="649.4" width="38.4" height="43.4" fill="#343e8b"/>
<polygon points="51.7,692.8 52.9,692.8 52.1,676.6" fill="#e87023"/>
<polygon points="52.8,692.8 54.6,692.8 53.5,670.4" fill="#e87023"/>
<polygon points="61.1,692.8 62.4,692.8 62,679.5" fill="#e87023"/>
<polygon points="59.1,692.8 60.6,692.8 59.9,671.2" fill="#e87023"/>
<polygon points="61.1,692.8 63.1,692.8 61.8,671.5" fill="#e87023"/>
<polygon points="59,692.8 60.5,692.8 59.7,671.6" fill="#e87023"/>
<polygon points="57.7,692.8 59.4,692.8 58.7,673.9" fill="#8a6a3a"/>
<polygon points="54.3,692.8 55.7,692.8 55,674.4" fill="#8a6a3a"/>
<polygon points="53.2,692.8 54.8,692.8 53.7,677.7" fill="#8a6a3a"/>
<polygon points="59.3,692.8 60.4,692.8 59.6,675.5" fill="#8a6a3a"/>
<polygon points="54,692.8 55.5,692.8 54.8,673.8" fill="#703f96"/>
<polygon points="55.2,692.8 56.8,692.8 56.2,678.5" fill="#703f96"/>
<polygon points="52.1,692.8 53.2,692.8 52.5,672.4" fill="#703f96"/>
<polygon points="58,692.8 58.5,668.9 60,668.9 60.3,692.8" fill="#29a8dd"/>
<polygon points="67.6,649.4 80.1,649.4 80.1,692.8 60,692.8" fill="#703f96"/>
<polygon points="55,692.8 56.9,692.8 55.7,670" fill="#703f96"/>
<polygon points="58.2,692.8 61.1,692.8 59.5,671.9" fill="#703f96"/>
<polygon points="59.8,692.8 61.3,692.8 60.5,672" fill="#703f96"/>
<polygon points="76.5,649.4 78.1,649.4 77.6,662.6" fill="#e87023"/>
<polygon points="75.1,649.4 76.7,649.4 75.7,663.4" fill="#e87023"/>
<polygon points="75.8,649.4 77.6,649.4 76.8,664.5" fill="#8a6a3a"/>
<polygon points="76.8,649.4 78.3,649.4 77.6,662.5" fill="#8a6a3a"/>
<rect x="80.1" y="649.4" width="67.2" height="43.4" fill="#e87023"/>
<polygon points="93,649.4 108,649.4 109,677.6" fill="#343e8b"/>
<rect x="106.9" y="649.4" width="0.8" height="4" fill="#703f96"/>
<rect x="101.8" y="649.4" width="1" height="11.5" fill="#703f96"/>
<rect x="94.1" y="649.4" width="1.3" height="9.8" fill="#703f96"/>
<rect x="96.5" y="649.4" width="0.9" height="8" fill="#703f96"/>
<rect x="102.8" y="649.4" width="1.2" height="0.7" fill="#8a6a3a"/>
<rect x="100.5" y="649.4" width="0.9" height="9.9" fill="#8a6a3a"/>
<rect x="101.9" y="649.4" width="0.8" height="2.7" fill="#8a6a3a"/>
<polygon points="117.9,649.4 118.9,649.4 118.4,659.7" fill="#8a6a3a"/>
<polygon points="108.2,649.4 109.6,649.4 108.9,668.6" fill="#8a6a3a"/>
<polygon points="118.4,649.4 120.1,649.4 119.3,659" fill="#8a6a3a"/>
<polygon points="101.2,649.4 102.9,649.4 102.2,670.7" fill="#8a6a3a"/>
<polygon points="122.3,649.4 123.5,649.4 122.8,660" fill="#8a6a3a"/>
<polygon points="127,649.4 131,649.4 136,681.9 136,692.8 112,692.8" fill="#703f96"/>
<polygon points="131,649.4 145.5,649.4 145.5,677.6 136,681.9" fill="#343e8b"/>
<rect x="143.6" y="681.2" width="1.3" height="11.6" fill="#e87023"/>
<rect x="136.8" y="679.7" width="1.5" height="13.1" fill="#e87023"/>
<rect x="137.4" y="682.3" width="1.4" height="10.5" fill="#e87023"/>
<rect x="139.3" y="680.4" width="0.7" height="12.4" fill="#8a6a3a"/>
<rect x="131.8" y="681.3" width="0.8" height="11.5" fill="#8a6a3a"/>
<rect x="145.5" y="649.4" width="1.8" height="43.4" fill="#8a6a3a"/>
<rect x="147.2" y="649.4" width="37.3" height="43.4" fill="#e87023"/>
<polygon points="168.2,649.4 170.5,649.4 169.3,666" fill="#343e8b"/>
<polygon points="169.1,649.4 171.8,649.4 170.4,659.6" fill="#343e8b"/>
<polygon points="165,649.4 167.6,649.4 166.2,664" fill="#343e8b"/>
<polygon points="165.9,649.4 167.4,649.4 166.4,661.6" fill="#343e8b"/>
<rect x="166.4" y="682.4" width="1.1" height="10.4" fill="#b91f27"/>
<rect x="167.6" y="680.8" width="1" height="12" fill="#b91f27"/>
<rect x="167.8" y="680.9" width="0.9" height="11.9" fill="#b91f27"/>
<polygon points="182,651.6 184.6,662.4 184.6,692.8 175,692.8" fill="#703f96"/>
<rect x="184.6" y="649.4" width="13.1" height="43.4" fill="#343e8b"/>
<polygon points="195.5,672.8 196.8,671.1 196.8,692.8 189,692.8" fill="#e87023"/>
<rect x="197.7" y="649.4" width="44.3" height="43.4" fill="#343e8b"/>
<polygon points="205,692.8 233,663.3 240,662.4 242,668.9 242,692.8" fill="#e87023"/>
<rect x="219.9" y="681.4" width="1" height="11.4" fill="#29a8dd"/>
<rect x="223.8" y="674.8" width="0.8" height="18" fill="#29a8dd"/>
<rect x="217.4" y="679.9" width="1.4" height="12.9" fill="#29a8dd"/>
<rect x="211.4" y="677.5" width="1" height="15.3" fill="#29a8dd"/>
<rect x="232.8" y="679.5" width="1.4" height="13.3" fill="#b91f27"/>
<rect x="217.6" y="676.7" width="1" height="16.1" fill="#b91f27"/>
<rect x="239" y="686" width="0.7" height="6.8" fill="#b91f27"/>
<rect x="230.6" y="682.9" width="1.1" height="9.9" fill="#b91f27"/>
<rect x="226.2" y="680" width="0.7" height="12.8" fill="#703f96"/>
<rect x="225.9" y="683.5" width="1" height="9.3" fill="#703f96"/>
<rect x="209.9" y="681" width="1.4" height="11.8" fill="#703f96"/>
<rect x="232.6" y="671.4" width="1.3" height="21.4" fill="#703f96"/>
<rect x="232.2" y="684.5" width="0.9" height="8.3" fill="#8a6a3a"/>
<rect x="225.2" y="671.9" width="1.3" height="20.9" fill="#8a6a3a"/>
<rect x="207.9" y="675.4" width="1.3" height="17.4" fill="#8a6a3a"/>
<rect x="234.4" y="684.9" width="0.9" height="7.9" fill="#8a6a3a"/>
<polygon points="241.3,649.4 267.9,649.4 267.9,662.4 264.8,692.8 236.6,692.8" fill="#29a8dd"/>
<polygon points="264.2,649.4 266.5,649.4 265.2,656.8" fill="#343e8b"/>
<polygon points="264.7,649.4 267,649.4 266,657.3" fill="#343e8b"/>
<polygon points="262.5,649.4 265.2,649.4 263.7,658.4" fill="#343e8b"/>
<polygon points="266.2,649.4 267.5,649.4 266.7,656" fill="#8a6a3a"/>
<polygon points="256.6,649.4 259.2,649.4 258.3,656" fill="#8a6a3a"/>
<rect x="264.8" y="675.4" width="3.1" height="17.4" fill="#8a6a3a"/>
<rect x="267.5" y="649.4" width="25" height="43.4" fill="#e87023"/>
<rect x="269" y="671.1" width="1.5" height="21.7" fill="#b91f27"/>
<rect x="272" y="662.4" width="1.5" height="30.4" fill="#343e8b"/>
<rect x="275" y="649.4" width="2.5" height="21.7" fill="#343e8b"/>
<rect x="282.5" y="649.4" width="2.5" height="17.4" fill="#343e8b"/>
<rect x="285" y="649.4" width="2" height="13" fill="#343e8b"/>
<polygon points="292.5,649.4 302.5,649.4 302.5,692.8 285,692.8" fill="#343e8b"/>
<rect x="289.6" y="651" width="0.9" height="41.8" fill="#703f96"/>
<rect x="288.2" y="659.7" width="1.2" height="33.1" fill="#703f96"/>
<rect x="289.2" y="651.1" width="1.2" height="41.7" fill="#703f96"/>
<rect x="298.3" y="653" width="1" height="39.8" fill="#703f96"/>
<rect x="286.3" y="665.6" width="1.6" height="27.2" fill="#703f96"/>
<rect x="296.4" y="653.4" width="1" height="39.4" fill="#703f96"/>
<rect x="294" y="658.1" width="1.5" height="34.7" fill="#29a8dd"/>
<rect x="297" y="649.4" width="2" height="43.4" fill="#703f96"/>
<rect x="300" y="662.4" width="1.5" height="30.4" fill="#29a8dd"/>
<rect x="302.5" y="649.4" width="4.8" height="43.4" fill="#b91f27"/>
<rect x="307.3" y="649.4" width="15.2" height="43.4" fill="#e87023"/>
<rect x="322.5" y="649.4" width="34.1" height="43.4" fill="#343e8b"/>
<polygon points="322.5,649.4 324,649.4 335,692.8 322.5,692.8" fill="#e87023"/>
<rect x="317.5" y="675.4" width="2.5" height="17.4" fill="#b91f27"/>
<rect x="320.5" y="679.8" width="1.5" height="13" fill="#b91f27"/>
<rect x="342.5" y="649.4" width="3.8" height="43.4" fill="#29a8dd"/>
<rect x="346.2" y="649.4" width="6.2" height="43.4" fill="#703f96"/>
<rect x="352.5" y="662.4" width="4.1" height="30.4" fill="#b91f27"/>
<rect x="356.6" y="649.4" width="42.8" height="43.4" fill="#343e8b"/>
<polygon points="385,655 387.5,671.1 387.5,692.8 370,692.8" fill="#e87023"/>
<rect x="392.3" y="661" width="1.1" height="31.8" fill="#703f96"/>
<rect x="390.5" y="661.8" width="1.2" height="31" fill="#703f96"/>
<rect x="393.1" y="659.7" width="1.2" height="33.1" fill="#703f96"/>
<rect x="384" y="649.4" width="5" height="43.4" fill="#e87023"/>
<rect x="389" y="662.4" width="7.5" height="30.4" fill="#703f96"/>
<rect x="394" y="658.1" width="2" height="34.7" fill="#29a8dd"/>
<rect x="396.5" y="649.4" width="2.9" height="43.4" fill="#e87023"/>
<rect x="399.4" y="649.4" width="25.8" height="43.4" fill="#343e8b"/>
<rect x="415.2" y="649.4" width="8.8" height="43.4" fill="#e87023"/>
<rect x="412.8" y="683.3" width="1.3" height="9.5" fill="#22a855"/>
<rect x="405.7" y="680.2" width="1.1" height="12.6" fill="#22a855"/>
<rect x="407.5" y="680.6" width="0.9" height="12.2" fill="#e87023"/>
<rect x="407.7" y="680.4" width="1.4" height="12.4" fill="#e87023"/>
<rect x="408.2" y="682.6" width="1.2" height="10.2" fill="#e87023"/>
<rect x="414.1" y="684.8" width="1.1" height="8" fill="#b91f27"/>
<rect x="410.2" y="683.2" width="1.5" height="9.6" fill="#b91f27"/>
<rect x="425.2" y="649.4" width="39.9" height="43.4" fill="#343e8b"/>
<polygon points="453.4,649.4 459.5,649.4 459.5,692.8 434.1,692.8" fill="#e87023"/>
<rect x="436.9" y="676.9" width="1" height="15.9" fill="#29a8dd"/>
<rect x="451.9" y="676.2" width="1.4" height="16.6" fill="#29a8dd"/>
<rect x="453.1" y="680.2" width="0.9" height="12.6" fill="#29a8dd"/>
<rect x="450.8" y="682.8" width="0.7" height="10" fill="#22a855"/>
<rect x="455.9" y="681.5" width="0.9" height="11.3" fill="#22a855"/>
<rect x="437.3" y="684.6" width="1.5" height="8.2" fill="#b91f27"/>
<rect x="454.7" y="682.4" width="0.7" height="10.4" fill="#b91f27"/>
<rect x="448.8" y="680.4" width="0.9" height="12.4" fill="#b91f27"/>
<rect x="459.5" y="649.4" width="5.6" height="43.4" fill="#703f96"/>
<rect x="461" y="649.4" width="1.5" height="43.4" fill="#343e8b"/>
<rect x="465.1" y="649.4" width="42.5" height="43.4" fill="#343e8b"/>
<polygon points="492,653.7 495.6,653.7 495.6,692.8 476,692.8" fill="#703f96"/>
<rect x="478.9" y="680.5" width="0.8" height="12.3" fill="#e87023"/>
<rect x="490.7" y="681.6" width="1.3" height="11.2" fill="#e87023"/>
<rect x="480.8" y="681.1" width="1.2" height="11.7" fill="#b91f27"/>
<rect x="489.8" y="682.3" width="0.7" height="10.5" fill="#b91f27"/>
<rect x="495.6" y="649.4" width="12" height="43.4" fill="#e87023"/>
<rect x="498.5" y="649.4" width="2.5" height="43.4" fill="#703f96"/>
<rect x="504.5" y="649.4" width="3.1" height="43.4" fill="#703f96"/>
<rect x="505.5" y="662.4" width="1.2" height="30.4" fill="#b91f27"/>
</g>
<rect x="30.9" y="649.9" width="476.2" height="42.5" fill="none" stroke="#000" stroke-opacity="0.3" stroke-width="0.9"/>
</svg>
<line x1="57.1" y1="34" x2="57.1" y2="380.2" stroke="#555" stroke-width="1.1"/>
<line x1="57.1" y1="34" x2="57.1" y2="87.5" stroke="#161622" stroke-width="1"/>
<line x1="57.1" y1="90.6" x2="57.1" y2="143.7" stroke="#161622" stroke-width="1"/>
<line x1="57.1" y1="146.8" x2="57.1" y2="199.2" stroke="#161622" stroke-width="1"/>
<line x1="57.1" y1="202.8" x2="57.1" y2="254.8" stroke="#161622" stroke-width="1"/>
<line x1="57.1" y1="258.8" x2="57.1" y2="310.6" stroke="#161622" stroke-width="1"/>
<line x1="57.1" y1="314.6" x2="57.1" y2="357" stroke="#161622" stroke-width="1"/>
<line x1="76.7" y1="34" x2="76.7" y2="380.2" stroke="#555" stroke-width="1.1"/>
<line x1="76.7" y1="34" x2="76.7" y2="87.5" stroke="#161622" stroke-width="1"/>
<line x1="76.7" y1="90.6" x2="76.7" y2="143.7" stroke="#161622" stroke-width="1"/>
<line x1="76.7" y1="146.8" x2="76.7" y2="199.2" stroke="#161622" stroke-width="1"/>
<line x1="76.7" y1="202.8" x2="76.7" y2="254.8" stroke="#161622" stroke-width="1"/>
<line x1="76.7" y1="258.8" x2="76.7" y2="310.6" stroke="#161622" stroke-width="1"/>
<line x1="76.7" y1="314.6" x2="76.7" y2="357" stroke="#161622" stroke-width="1"/>
<line x1="119.6" y1="34" x2="119.6" y2="380.2" stroke="#555" stroke-width="1.1"/>
<line x1="119.6" y1="34" x2="119.6" y2="87.5" stroke="#161622" stroke-width="1"/>
<line x1="119.6" y1="90.6" x2="119.6" y2="143.7" stroke="#161622" stroke-width="1"/>
<line x1="119.6" y1="146.8" x2="119.6" y2="199.2" stroke="#161622" stroke-width="1"/>
<line x1="119.6" y1="202.8" x2="119.6" y2="254.8" stroke="#161622" stroke-width="1"/>
<line x1="119.6" y1="258.8" x2="119.6" y2="310.6" stroke="#161622" stroke-width="1"/>
<line x1="119.6" y1="314.6" x2="119.6" y2="357" stroke="#161622" stroke-width="1"/>
<line x1="180.6" y1="34" x2="180.6" y2="380.2" stroke="#555" stroke-width="1.1"/>
<line x1="180.6" y1="34" x2="180.6" y2="87.5" stroke="#161622" stroke-width="1"/>
<line x1="180.6" y1="90.6" x2="180.6" y2="143.7" stroke="#161622" stroke-width="1"/>
<line x1="180.6" y1="146.8" x2="180.6" y2="199.2" stroke="#161622" stroke-width="1"/>
<line x1="180.6" y1="202.8" x2="180.6" y2="254.8" stroke="#161622" stroke-width="1"/>
<line x1="180.6" y1="258.8" x2="180.6" y2="310.6" stroke="#161622" stroke-width="1"/>
<line x1="180.6" y1="314.6" x2="180.6" y2="357" stroke="#161622" stroke-width="1"/>
<line x1="225.9" y1="34" x2="225.9" y2="380.2" stroke="#555" stroke-width="1.1"/>
<line x1="225.9" y1="34" x2="225.9" y2="87.5" stroke="#161622" stroke-width="1"/>
<line x1="225.9" y1="90.6" x2="225.9" y2="143.7" stroke="#161622" stroke-width="1"/>
<line x1="225.9" y1="146.8" x2="225.9" y2="199.2" stroke="#161622" stroke-width="1"/>
<line x1="225.9" y1="202.8" x2="225.9" y2="254.8" stroke="#161622" stroke-width="1"/>
<line x1="225.9" y1="258.8" x2="225.9" y2="310.6" stroke="#161622" stroke-width="1"/>
<line x1="225.9" y1="314.6" x2="225.9" y2="357" stroke="#161622" stroke-width="1"/>
<line x1="325.3" y1="34" x2="325.3" y2="380.2" stroke="#555" stroke-width="1.1"/>
<line x1="325.3" y1="34" x2="325.3" y2="87.5" stroke="#161622" stroke-width="1"/>
<line x1="325.3" y1="90.6" x2="325.3" y2="143.7" stroke="#161622" stroke-width="1"/>
<line x1="325.3" y1="146.8" x2="325.3" y2="199.2" stroke="#161622" stroke-width="1"/>
<line x1="325.3" y1="202.8" x2="325.3" y2="254.8" stroke="#161622" stroke-width="1"/>
<line x1="325.3" y1="258.8" x2="325.3" y2="310.6" stroke="#161622" stroke-width="1"/>
<line x1="325.3" y1="314.6" x2="325.3" y2="357" stroke="#161622" stroke-width="1"/>
<line x1="370.1" y1="34" x2="370.1" y2="380.2" stroke="#555" stroke-width="1.1"/>
<line x1="370.1" y1="34" x2="370.1" y2="87.5" stroke="#161622" stroke-width="1"/>
<line x1="370.1" y1="90.6" x2="370.1" y2="143.7" stroke="#161622" stroke-width="1"/>
<line x1="370.1" y1="146.8" x2="370.1" y2="199.2" stroke="#161622" stroke-width="1"/>
<line x1="370.1" y1="202.8" x2="370.1" y2="254.8" stroke="#161622" stroke-width="1"/>
<line x1="370.1" y1="258.8" x2="370.1" y2="310.6" stroke="#161622" stroke-width="1"/>
<line x1="370.1" y1="314.6" x2="370.1" y2="357" stroke="#161622" stroke-width="1"/>
<line x1="409.2" y1="34" x2="409.2" y2="380.2" stroke="#555" stroke-width="1.1"/>
<line x1="409.2" y1="34" x2="409.2" y2="87.5" stroke="#161622" stroke-width="1"/>
<line x1="409.2" y1="90.6" x2="409.2" y2="143.7" stroke="#161622" stroke-width="1"/>
<line x1="409.2" y1="146.8" x2="409.2" y2="199.2" stroke="#161622" stroke-width="1"/>
<line x1="409.2" y1="202.8" x2="409.2" y2="254.8" stroke="#161622" stroke-width="1"/>
<line x1="409.2" y1="258.8" x2="409.2" y2="310.6" stroke="#161622" stroke-width="1"/>
<line x1="409.2" y1="314.6" x2="409.2" y2="357" stroke="#161622" stroke-width="1"/>
<line x1="433" y1="34" x2="433" y2="380.2" stroke="#555" stroke-width="1.1"/>
<line x1="433" y1="34" x2="433" y2="87.5" stroke="#161622" stroke-width="1"/>
<line x1="433" y1="90.6" x2="433" y2="143.7" stroke="#161622" stroke-width="1"/>
<line x1="433" y1="146.8" x2="433" y2="199.2" stroke="#161622" stroke-width="1"/>
<line x1="433" y1="202.8" x2="433" y2="254.8" stroke="#161622" stroke-width="1"/>
<line x1="433" y1="258.8" x2="433" y2="310.6" stroke="#161622" stroke-width="1"/>
<line x1="433" y1="314.6" x2="433" y2="357" stroke="#161622" stroke-width="1"/>
<line x1="469.7" y1="34" x2="469.7" y2="380.2" stroke="#555" stroke-width="1.1"/>
<line x1="469.7" y1="34" x2="469.7" y2="87.5" stroke="#161622" stroke-width="1"/>
<line x1="469.7" y1="90.6" x2="469.7" y2="143.7" stroke="#161622" stroke-width="1"/>
<line x1="469.7" y1="146.8" x2="469.7" y2="199.2" stroke="#161622" stroke-width="1"/>
<line x1="469.7" y1="202.8" x2="469.7" y2="254.8" stroke="#161622" stroke-width="1"/>
<line x1="469.7" y1="258.8" x2="469.7" y2="310.6" stroke="#161622" stroke-width="1"/>
<line x1="469.7" y1="314.6" x2="469.7" y2="357" stroke="#161622" stroke-width="1"/>
<line x1="33.2" y1="421.8" x2="33.2" y2="715.3" stroke="#555" stroke-width="1.1"/>
<line x1="33.2" y1="421.8" x2="33.2" y2="475.6" stroke="#161622" stroke-width="1"/>
<line x1="33.2" y1="478.6" x2="33.2" y2="532.3" stroke="#161622" stroke-width="1"/>
<line x1="33.2" y1="535.2" x2="33.2" y2="589.4" stroke="#161622" stroke-width="1"/>
<line x1="33.2" y1="592.2" x2="33.2" y2="646.3" stroke="#161622" stroke-width="1"/>
<line x1="33.2" y1="649.4" x2="33.2" y2="692.8" stroke="#161622" stroke-width="1"/>
<line x1="80.1" y1="421.8" x2="80.1" y2="715.3" stroke="#555" stroke-width="1.1"/>
<line x1="80.1" y1="421.8" x2="80.1" y2="475.6" stroke="#161622" stroke-width="1"/>
<line x1="80.1" y1="478.6" x2="80.1" y2="532.3" stroke="#161622" stroke-width="1"/>
<line x1="80.1" y1="535.2" x2="80.1" y2="589.4" stroke="#161622" stroke-width="1"/>
<line x1="80.1" y1="592.2" x2="80.1" y2="646.3" stroke="#161622" stroke-width="1"/>
<line x1="80.1" y1="649.4" x2="80.1" y2="692.8" stroke="#161622" stroke-width="1"/>
<line x1="147.2" y1="421.8" x2="147.2" y2="715.3" stroke="#555" stroke-width="1.1"/>
<line x1="147.2" y1="421.8" x2="147.2" y2="475.6" stroke="#161622" stroke-width="1"/>
<line x1="147.2" y1="478.6" x2="147.2" y2="532.3" stroke="#161622" stroke-width="1"/>
<line x1="147.2" y1="535.2" x2="147.2" y2="589.4" stroke="#161622" stroke-width="1"/>
<line x1="147.2" y1="592.2" x2="147.2" y2="646.3" stroke="#161622" stroke-width="1"/>
<line x1="147.2" y1="649.4" x2="147.2" y2="692.8" stroke="#161622" stroke-width="1"/>
<line x1="197.7" y1="421.8" x2="197.7" y2="715.3" stroke="#555" stroke-width="1.1"/>
<line x1="197.7" y1="421.8" x2="197.7" y2="475.6" stroke="#161622" stroke-width="1"/>
<line x1="197.7" y1="478.6" x2="197.7" y2="532.3" stroke="#161622" stroke-width="1"/>
<line x1="197.7" y1="535.2" x2="197.7" y2="589.4" stroke="#161622" stroke-width="1"/>
<line x1="197.7" y1="592.2" x2="197.7" y2="646.3" stroke="#161622" stroke-width="1"/>
<line x1="197.7" y1="649.4" x2="197.7" y2="692.8" stroke="#161622" stroke-width="1"/>
<line x1="307.3" y1="421.8" x2="307.3" y2="715.3" stroke="#555" stroke-width="1.1"/>
<line x1="307.3" y1="421.8" x2="307.3" y2="475.6" stroke="#161622" stroke-width="1"/>
<line x1="307.3" y1="478.6" x2="307.3" y2="532.3" stroke="#161622" stroke-width="1"/>
<line x1="307.3" y1="535.2" x2="307.3" y2="589.4" stroke="#161622" stroke-width="1"/>
<line x1="307.3" y1="592.2" x2="307.3" y2="646.3" stroke="#161622" stroke-width="1"/>
<line x1="307.3" y1="649.4" x2="307.3" y2="692.8" stroke="#161622" stroke-width="1"/>
<line x1="356.6" y1="421.8" x2="356.6" y2="715.3" stroke="#555" stroke-width="1.1"/>
<line x1="356.6" y1="421.8" x2="356.6" y2="475.6" stroke="#161622" stroke-width="1"/>
<line x1="356.6" y1="478.6" x2="356.6" y2="532.3" stroke="#161622" stroke-width="1"/>
<line x1="356.6" y1="535.2" x2="356.6" y2="589.4" stroke="#161622" stroke-width="1"/>
<line x1="356.6" y1="592.2" x2="356.6" y2="646.3" stroke="#161622" stroke-width="1"/>
<line x1="356.6" y1="649.4" x2="356.6" y2="692.8" stroke="#161622" stroke-width="1"/>
<line x1="399.4" y1="421.8" x2="399.4" y2="715.3" stroke="#555" stroke-width="1.1"/>
<line x1="399.4" y1="421.8" x2="399.4" y2="475.6" stroke="#161622" stroke-width="1"/>
<line x1="399.4" y1="478.6" x2="399.4" y2="532.3" stroke="#161622" stroke-width="1"/>
<line x1="399.4" y1="535.2" x2="399.4" y2="589.4" stroke="#161622" stroke-width="1"/>
<line x1="399.4" y1="592.2" x2="399.4" y2="646.3" stroke="#161622" stroke-width="1"/>
<line x1="399.4" y1="649.4" x2="399.4" y2="692.8" stroke="#161622" stroke-width="1"/>
<line x1="425.2" y1="421.8" x2="425.2" y2="715.3" stroke="#555" stroke-width="1.1"/>
<line x1="425.2" y1="421.8" x2="425.2" y2="475.6" stroke="#161622" stroke-width="1"/>
<line x1="425.2" y1="478.6" x2="425.2" y2="532.3" stroke="#161622" stroke-width="1"/>
<line x1="425.2" y1="535.2" x2="425.2" y2="589.4" stroke="#161622" stroke-width="1"/>
<line x1="425.2" y1="592.2" x2="425.2" y2="646.3" stroke="#161622" stroke-width="1"/>
<line x1="425.2" y1="649.4" x2="425.2" y2="692.8" stroke="#161622" stroke-width="1"/>
<line x1="465.1" y1="421.8" x2="465.1" y2="715.3" stroke="#555" stroke-width="1.1"/>
<line x1="465.1" y1="421.8" x2="465.1" y2="475.6" stroke="#161622" stroke-width="1"/>
<line x1="465.1" y1="478.6" x2="465.1" y2="532.3" stroke="#161622" stroke-width="1"/>
<line x1="465.1" y1="535.2" x2="465.1" y2="589.4" stroke="#161622" stroke-width="1"/>
<line x1="465.1" y1="592.2" x2="465.1" y2="646.3" stroke="#161622" stroke-width="1"/>
<line x1="465.1" y1="649.4" x2="465.1" y2="692.8" stroke="#161622" stroke-width="1"/>
<text x="16.2" y="58.5" transform="rotate(-90 16.2 58.5)" text-anchor="middle" class="k">K=2</text>
<text x="16.2" y="114.8" transform="rotate(-90 16.2 114.8)" text-anchor="middle" class="k">K=3</text>
<text x="16.2" y="170.7" transform="rotate(-90 16.2 170.7)" text-anchor="middle" class="k">K=4</text>
<text x="16.2" y="226.5" transform="rotate(-90 16.2 226.5)" text-anchor="middle" class="k">K=5</text>
<text x="16.2" y="282.4" transform="rotate(-90 16.2 282.4)" text-anchor="middle" class="k">K=6</text>
<text x="16.2" y="333.5" transform="rotate(-90 16.2 333.5)" text-anchor="middle" class="k">K=7</text>
<text x="16.2" y="446.4" transform="rotate(-90 16.2 446.4)" text-anchor="middle" class="k">K=2</text>
<text x="16.2" y="503.1" transform="rotate(-90 16.2 503.1)" text-anchor="middle" class="k">K=3</text>
<text x="16.2" y="560" transform="rotate(-90 16.2 560)" text-anchor="middle" class="k">K=4</text>
<text x="16.2" y="617" transform="rotate(-90 16.2 617)" text-anchor="middle" class="k">K=5</text>
<text x="16.2" y="668.8" transform="rotate(-90 16.2 668.8)" text-anchor="middle" class="k">K=6</text>
<text transform="translate(43.5 366.5) scale(1.08 1)" text-anchor="middle" class="g">WE</text>
<text transform="translate(67 366.5) scale(1.08 1)" text-anchor="middle" class="g">DE</text>
<text transform="translate(97.5 366.5) scale(1.08 1)" text-anchor="middle" class="g">Africa</text>
<text transform="translate(150.1 366.5) scale(1.08 1)" text-anchor="middle" class="g">EurWest</text>
<text transform="translate(202.7 366.5) scale(1.08 1)" text-anchor="middle" class="g">EurEast</text>
<text transform="translate(275.5 366.5) scale(1.08 1)" text-anchor="middle" class="g">Asia</text>
<text transform="translate(348 366.5) scale(1.08 1)" text-anchor="middle" class="g">Former</text>
<text transform="translate(348 378.6) scale(1.08 1)" text-anchor="middle" class="g">SU</text>
<text transform="translate(389.5 366.5) scale(1.08 1)" text-anchor="middle" class="g">North</text>
<text transform="translate(389.5 378.6) scale(1.08 1)" text-anchor="middle" class="g">Am</text>
<text transform="translate(421 366.5) scale(1.08 1)" text-anchor="middle" class="g">Cent</text>
<text transform="translate(421 378.6) scale(1.08 1)" text-anchor="middle" class="g">Am</text>
<text transform="translate(451 366.5) scale(1.08 1)" text-anchor="middle" class="g">South</text>
<text transform="translate(451 378.6) scale(1.08 1)" text-anchor="middle" class="g">Am</text>
<text transform="translate(489 366.5) scale(1.08 1)" text-anchor="middle" class="g">Oceania</text>
<text transform="translate(25.7 701.3) scale(1.08 1)" text-anchor="middle" class="g">AE</text>
<text transform="translate(56.4 701.3) scale(1.08 1)" text-anchor="middle" class="g">Africa</text>
<text transform="translate(114 701.3) scale(1.08 1)" text-anchor="middle" class="g">EurWest</text>
<text transform="translate(172.5 701.3) scale(1.08 1)" text-anchor="middle" class="g">EurEast</text>
<text transform="translate(251.6 701.3) scale(1.08 1)" text-anchor="middle" class="g">Asia</text>
<text transform="translate(332.5 701.3) scale(1.08 1)" text-anchor="middle" class="g">Former</text>
<text transform="translate(332.5 711.6) scale(1.08 1)" text-anchor="middle" class="g">SU</text>
<text transform="translate(377 701.3) scale(1.08 1)" text-anchor="middle" class="g">North</text>
<text transform="translate(377 711.6) scale(1.08 1)" text-anchor="middle" class="g">Am</text>
<text transform="translate(412 701.3) scale(1.08 1)" text-anchor="middle" class="g">Cent</text>
<text transform="translate(412 711.6) scale(1.08 1)" text-anchor="middle" class="g">Am</text>
<text transform="translate(445 701.3) scale(1.08 1)" text-anchor="middle" class="g">South</text>
<text transform="translate(445 711.6) scale(1.08 1)" text-anchor="middle" class="g">Am</text>
<text transform="translate(485.5 701.3) scale(1.08 1)" text-anchor="middle" class="g">Oceania</text>
</svg>
</body></html>
